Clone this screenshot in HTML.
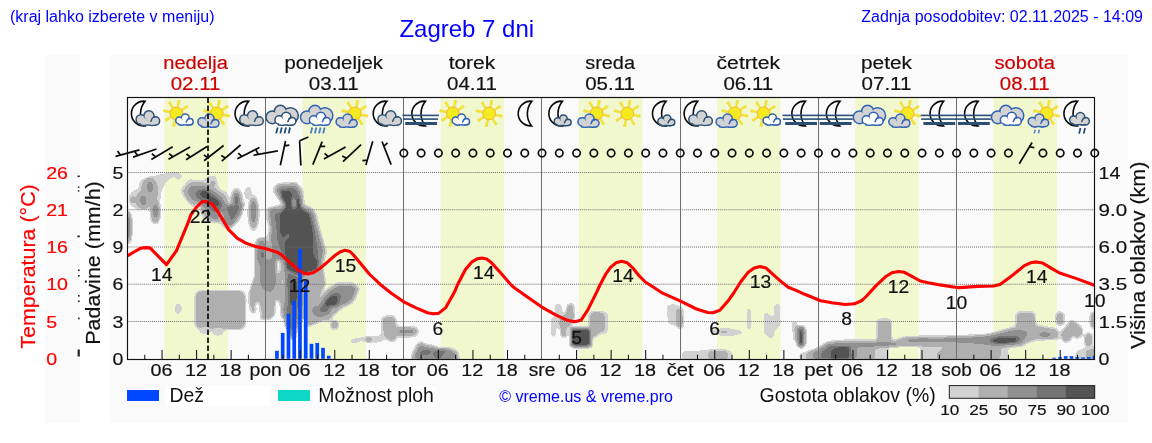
<!DOCTYPE html>
<html lang="sl"><head><meta charset="utf-8"><title>Zagreb 7 dni</title>
<style>html,body{margin:0;padding:0;background:#fff;}body{width:1152px;height:443px;overflow:hidden;position:relative;font-family:"Liberation Sans", sans-serif;}svg{position:absolute;left:0;top:0;display:block;opacity:0.999;}text{font-family:"Liberation Sans", sans-serif;}</style>
</head><body>
<svg width="1152" height="443" viewBox="0 0 1152 443">
<defs>
<clipPath id="pc"><rect x="127.5" y="97.5" width="967.0" height="262.0"/></clipPath>
<filter id="cf" x="100" y="150" width="1020" height="230" filterUnits="userSpaceOnUse" color-interpolation-filters="sRGB">
<feGaussianBlur stdDeviation="1.5"/>
<feColorMatrix type="matrix" values="1 0 0 0 0  1 0 0 0 0  1 0 0 0 0  1 0 0 0 0"/>
<feComponentTransfer><feFuncR type="discrete" tableValues="1 1 0.824 0.824 0.824 0.690 0.690 0.690 0.690 0.690 0.565 0.565 0.565 0.565 0.565 0.451 0.451 0.451 0.329 0.329"/><feFuncG type="discrete" tableValues="1 1 0.824 0.824 0.824 0.690 0.690 0.690 0.690 0.690 0.565 0.565 0.565 0.565 0.565 0.451 0.451 0.451 0.329 0.329"/><feFuncB type="discrete" tableValues="1 1 0.824 0.824 0.824 0.690 0.690 0.690 0.690 0.690 0.565 0.565 0.565 0.565 0.565 0.451 0.451 0.451 0.329 0.329"/><feFuncA type="discrete" tableValues="0 0 1 1 1 1 1 1 1 1 1 1 1 1 1 1 1 1 1 1"/></feComponentTransfer>
</filter>
</defs>
<rect x="45" y="55" width="35" height="368" fill="#fafafa"/>
<rect x="110" y="55" width="1018" height="368" fill="#fafafa"/>
<text x="10.00" y="21.80" font-size="16" text-anchor="start" fill="#0000ff">(kraj lahko izberete v meniju)</text>
<text x="399.40" y="36.90" font-size="24" text-anchor="start" fill="#0000ff">Zagreb 7 dni</text>
<text x="1143.00" y="21.80" font-size="16" text-anchor="end" fill="#0000ff">Zadnja posodobitev: 02.11.2025 - 14:09</text>
<text x="195.59" y="69.20" font-size="18" text-anchor="middle" fill="#cc0000" textLength="64.70" lengthAdjust="spacingAndGlyphs" stroke="#cc0000" stroke-width="0.18">nedelja</text>
<text x="195.59" y="89.90" font-size="17.6" text-anchor="middle" fill="#cc0000" textLength="49.80" lengthAdjust="spacingAndGlyphs" stroke="#cc0000" stroke-width="0.18">02.11</text>
<text x="333.77" y="69.20" font-size="18" text-anchor="middle" fill="#111" textLength="98.40" lengthAdjust="spacingAndGlyphs" stroke="#111" stroke-width="0.18">ponedeljek</text>
<text x="333.77" y="89.90" font-size="17.6" text-anchor="middle" fill="#111" textLength="49.80" lengthAdjust="spacingAndGlyphs" stroke="#111" stroke-width="0.18">03.11</text>
<text x="471.95" y="69.20" font-size="18" text-anchor="middle" fill="#111" textLength="46.60" lengthAdjust="spacingAndGlyphs" stroke="#111" stroke-width="0.18">torek</text>
<text x="471.95" y="89.90" font-size="17.6" text-anchor="middle" fill="#111" textLength="49.80" lengthAdjust="spacingAndGlyphs" stroke="#111" stroke-width="0.18">04.11</text>
<text x="610.13" y="69.20" font-size="18" text-anchor="middle" fill="#111" textLength="49.80" lengthAdjust="spacingAndGlyphs" stroke="#111" stroke-width="0.18">sreda</text>
<text x="610.13" y="89.90" font-size="17.6" text-anchor="middle" fill="#111" textLength="49.80" lengthAdjust="spacingAndGlyphs" stroke="#111" stroke-width="0.18">05.11</text>
<text x="748.31" y="69.20" font-size="18" text-anchor="middle" fill="#111" textLength="63.50" lengthAdjust="spacingAndGlyphs" stroke="#111" stroke-width="0.18">četrtek</text>
<text x="748.31" y="89.90" font-size="17.6" text-anchor="middle" fill="#111" textLength="49.80" lengthAdjust="spacingAndGlyphs" stroke="#111" stroke-width="0.18">06.11</text>
<text x="886.49" y="69.20" font-size="18" text-anchor="middle" fill="#111" textLength="50.90" lengthAdjust="spacingAndGlyphs" stroke="#111" stroke-width="0.18">petek</text>
<text x="886.49" y="89.90" font-size="17.6" text-anchor="middle" fill="#111" textLength="49.80" lengthAdjust="spacingAndGlyphs" stroke="#111" stroke-width="0.18">07.11</text>
<text x="1024.67" y="69.20" font-size="18" text-anchor="middle" fill="#cc0000" textLength="60.50" lengthAdjust="spacingAndGlyphs" stroke="#cc0000" stroke-width="0.18">sobota</text>
<text x="1024.67" y="89.90" font-size="17.6" text-anchor="middle" fill="#cc0000" textLength="49.80" lengthAdjust="spacingAndGlyphs" stroke="#cc0000" stroke-width="0.18">08.11</text>
<rect x="164.30" y="97.5" width="63.50" height="262.0" fill="#f1f8cd"/>
<rect x="302.48" y="97.5" width="63.50" height="262.0" fill="#f1f8cd"/>
<rect x="440.66" y="97.5" width="63.50" height="262.0" fill="#f1f8cd"/>
<rect x="578.84" y="97.5" width="63.50" height="262.0" fill="#f1f8cd"/>
<rect x="717.02" y="97.5" width="63.50" height="262.0" fill="#f1f8cd"/>
<rect x="855.20" y="97.5" width="63.50" height="262.0" fill="#f1f8cd"/>
<rect x="993.38" y="97.5" width="63.50" height="262.0" fill="#f1f8cd"/>
<g clip-path="url(#pc)"><g filter="url(#cf)">
<rect x="90" y="140" width="1040" height="250" fill="#000"/>
<polygon points="128.7,196.0 132.3,191.2 138.4,188.7 140.2,180.2 149.4,177.1 161.6,174.1 176.2,171.7 182.9,174.7 179.2,180.8 173.7,176.5 166.4,181.4 161.6,191.2 159.7,204.6 160.9,216.7 157.9,222.8 151.2,222.8 150.0,209.4 144.5,210.0 137.2,210.0 130.5,205.2" fill="#333333"/>
<ellipse cx="149.4" cy="191.2" rx="7.55" ry="13.4" fill="#6b6b6b"/>
<ellipse cx="143.3" cy="200.3" rx="6.7" ry="8.53" fill="#6b6b6b"/>
<ellipse cx="155.5" cy="211.9" rx="4.63" ry="11.58" fill="#6b6b6b"/>
<ellipse cx="132.6" cy="199.9" rx="2.68" ry="2.92" fill="#6b6b6b"/>
<ellipse cx="150.0" cy="186.9" rx="1.95" ry="5.12" fill="#bdbdbd"/>
<ellipse cx="143.3" cy="200.3" rx="2.07" ry="4.26" fill="#bdbdbd"/>
<ellipse cx="155.5" cy="210.6" rx="1.83" ry="6.7" fill="#bdbdbd"/>
<polygon points="180.1,190.5 188.4,179.2 203.0,180.2 209.1,175.6 214.6,175.6 217.6,181.4 219.1,188.7 227.6,192.4 229.2,204.6 227.4,216.7 222.5,225.3 217.6,222.8 210.3,222.8 203.0,219.2 198.1,204.6 193.2,207.6 187.8,202.7 181.3,193.0" fill="#333333"/>
<polygon points="183.5,191.2 190.2,183.2 203.0,183.2 210.3,186.3 215.8,189.9 222.5,194.2 226.7,198.5 226.7,208.2 223.7,219.2 218.8,221.6 210.3,220.4 204.2,214.3 199.3,203.3 193.2,204.6 188.4,200.3" fill="#6b6b6b"/>
<ellipse cx="213.0" cy="183.6" rx="2.07" ry="2.44" fill="#6b6b6b"/>
<polygon points="187.8,191.8 191.4,186.3 203.0,186.3 210.3,189.3 217.6,194.2 224.3,200.9 224.9,208.2 221.3,216.7 215.2,219.2 209.1,216.7 205.4,208.2 198.1,200.9 192.6,199.7" fill="#a3a3a3"/>
<polygon points="194.5,193.6 198.1,189.9 205.4,189.3 212.7,194.2 220.0,199.7 223.1,205.2 220.0,210.6 215.2,213.1 210.3,209.4 203.0,200.9 196.9,199.1" fill="#d6d6d6"/>
<ellipse cx="205.1" cy="194.2" rx="4.87" ry="3.66" fill="#ffffff" transform="rotate(20 205.1 194.2)"/>
<ellipse cx="213.9" cy="201.5" rx="6.34" ry="3.17" fill="#ffffff" transform="rotate(32 213.9 201.5)"/>
<ellipse cx="236.5" cy="204.6" rx="7.07" ry="17.06" fill="#333333"/>
<ellipse cx="236.5" cy="204.6" rx="5.36" ry="14.01" fill="#6b6b6b"/>
<ellipse cx="236.5" cy="203.3" rx="3.66" ry="10.97" fill="#a3a3a3"/>
<ellipse cx="236.5" cy="201.5" rx="1.95" ry="6.7" fill="#e3e3e3"/>
<ellipse cx="248.1" cy="193.0" rx="3.41" ry="6.34" fill="#3d3d3d"/>
<ellipse cx="253.5" cy="213.1" rx="5.85" ry="18.28" fill="#333333"/>
<ellipse cx="253.5" cy="213.1" rx="4.14" ry="15.23" fill="#6b6b6b"/>
<ellipse cx="253.5" cy="211.9" rx="2.44" ry="11.58" fill="#a3a3a3"/>
<ellipse cx="253.5" cy="209.4" rx="1.34" ry="7.31" fill="#d6d6d6"/>
<ellipse cx="128.4" cy="227.2" rx="3.66" ry="16.45" fill="#6b6b6b"/>
<ellipse cx="128.2" cy="227.2" rx="2.07" ry="12.18" fill="#b2b2b2"/>
<polygon points="218.8,212.6 242.0,212.6 238.3,222.3 228.6,230.2 222.5,227.2" fill="#333333"/>
<polygon points="221.3,212.6 240.1,212.6 236.5,221.1 228.6,227.8 223.7,225.4" fill="#6b6b6b"/>
<polygon points="223.1,212.6 237.7,212.6 234.1,220.5 228.6,225.4 224.9,223.5" fill="#a3a3a3"/>
<polygon points="226.1,212.6 234.7,212.6 231.6,219.3 228.6,221.7" fill="#d6d6d6"/>
<polygon points="272.1,189.9 276.3,183.2 296.4,181.6 303.1,189.3 304.7,204.6 312.3,207.2 315.3,211.9 315.9,222.8 266.6,222.8 266.6,208.2 273.3,206.0 282.4,204.6 277.5,198.5" fill="#333333"/>
<polygon points="274.5,189.9 278.2,185.1 295.8,183.8 301.3,190.5 302.8,205.8 310.4,208.8 313.2,212.5 314.1,222.8 268.4,222.8 268.6,210.0 274.5,208.2 284.2,205.2 279.4,198.5" fill="#6b6b6b"/>
<polygon points="276.9,189.9 279.7,186.5 295.2,186.0 299.8,191.8 301.3,206.7 308.6,210.0 311.3,213.3 312.3,222.8 278.8,222.8 278.4,211.9 285.5,206.0 281.0,198.5" fill="#a3a3a3"/>
<polygon points="279.4,190.2 281.2,188.2 295.0,188.0 298.3,193.0 301.9,208.2 307.6,210.9 309.6,214.1 310.4,222.8 279.4,222.8 279.4,212.5 285.7,206.7 282.1,198.5" fill="#d6d6d6"/>
<polygon points="281.2,190.9 290.3,190.7 291.6,197.2 292.8,208.2 297.0,209.4 297.6,196.6 300.3,196.3 301.1,208.8 307.2,211.9 308.6,222.8 280.0,222.8 280.0,213.1 284.9,208.0 285.5,203.6 281.2,198.5" fill="#ffffff"/>
<ellipse cx="293.7" cy="203.3" rx="1.1" ry="5.48" fill="#6b6b6b"/>
<polygon points="268.6,210.0 274.5,208.2 279.4,209.4 279.4,222.8 268.4,222.8" fill="#a3a3a3"/>
<ellipse cx="271.4" cy="214.9" rx="1.71" ry="1.46" fill="#d6d6d6"/>
<polygon points="264.5,212.6 316.3,212.6 319.6,227.2 323.2,239.4 326.9,251.6 323.6,263.7 323.0,273.5 254.7,273.5 254.1,245.5 257.2,238.2 266.9,237.5 269.4,227.2" fill="#333333"/>
<polygon points="268.8,212.6 314.5,212.6 317.9,227.2 321.5,239.4 324.8,251.6 322.0,263.7 321.2,273.5 267.5,273.5 269.4,251.6 270.0,239.4 270.6,227.2" fill="#6b6b6b"/>
<polygon points="269.4,212.6 312.6,212.6 316.3,227.2 319.6,239.4 323.0,250.3 320.3,263.7 319.3,273.5 273.6,273.5 272.4,251.6 271.2,239.4 271.2,227.2" fill="#a3a3a3"/>
<polygon points="274.2,212.6 310.6,212.6 314.2,227.2 316.3,239.4 318.1,251.6 317.9,263.7 318.1,273.5 281.6,273.5 280.9,251.6 276.9,239.4 276.1,227.2" fill="#d6d6d6"/>
<polygon points="280.3,212.6 308.4,212.6 312.0,227.2 312.7,239.4 312.3,251.6 316.9,268.6 316.9,273.5 287.0,273.5 285.8,251.6 285.2,240.0 280.6,233.3" fill="#ffffff"/>
<ellipse cx="287.0" cy="236.9" rx="1.22" ry="3.41" fill="#a3a3a3" transform="rotate(25 287.0 236.9)"/>
<polygon points="255.4,245.5 258.4,238.8 264.5,237.5 267.5,245.5 266.9,273.5 254.7,273.5" fill="#6b6b6b"/>
<polygon points="257.8,246.7 260.2,241.2 263.9,240.6 265.7,246.7 265.1,273.5 257.2,273.5" fill="#a3a3a3"/>
<polygon points="260.8,251.6 263.3,249.1 264.5,254.0 264.3,273.5 260.6,273.5" fill="#d6d6d6"/>
<polygon points="249.3,292.5 252.3,283.9 257.2,269.3 259.6,259.6 286.4,259.6 286.4,318.0 281.6,318.0 280.3,302.2 275.5,298.6 274.2,315.6 269.4,319.3 260.8,319.3 259.6,302.2 255.4,302.2 254.7,313.2 249.9,310.7" fill="#6b6b6b"/>
<polygon points="252.3,291.2 254.7,285.2 258.4,271.7 260.8,259.6 275.5,259.6 275.5,286.4 273.0,293.7 269.4,296.1 266.9,291.2 260.8,290.0 257.2,298.6 253.5,298.6" fill="#7a7a7a"/>
<polygon points="260.8,259.6 275.5,259.6 275.2,283.9 271.2,290.6 264.5,289.4 261.4,280.3" fill="#a3a3a3"/>
<ellipse cx="268.2" cy="273.0" rx="2.68" ry="9.75" fill="#b8b8b8"/>
<ellipse cx="278.5" cy="266.9" rx="2.19" ry="7.31" fill="#000000"/>
<ellipse cx="282.8" cy="282.1" rx="1.22" ry="4.87" fill="#0d0d0d"/>
<polygon points="284.0,259.6 319.9,259.6 318.1,269.3 312.0,277.2 302.3,282.7 286.4,276.6" fill="#d6d6d6"/>
<polygon points="285.8,259.6 318.1,259.6 316.3,268.1 310.8,275.4 302.3,280.3 296.2,277.8 287.0,269.3" fill="#ffffff"/>
<polygon points="285.2,269.3 303.5,276.6 302.3,319.3 285.2,319.3" fill="#a3a3a3"/>
<polygon points="287.0,273.0 299.8,277.8 298.6,319.3 287.6,319.3" fill="#d6d6d6"/>
<polygon points="289.5,280.3 297.4,280.3 296.8,319.3 290.1,319.3" fill="#f0f0f0"/>
<polygon points="302.3,274.2 323.0,269.3 325.4,283.9 318.1,298.6 313.2,301.0 313.2,319.3 302.3,319.3" fill="#6b6b6b"/>
<polygon points="311.4,302.2 318.1,298.6 327.9,287.6 337.6,282.1 354.7,282.7 360.1,288.2 355.9,298.6 352.2,304.0 342.5,308.3 332.7,316.8 330.3,320.5 311.4,320.5" fill="#333333"/>
<polygon points="313.2,302.8 319.3,300.0 329.1,289.4 338.2,284.2 353.4,284.8 357.7,288.8 354.1,297.9 350.4,302.8 341.3,306.8 332.1,315.0 329.1,320.5 313.2,320.5" fill="#6b6b6b"/>
<polygon points="320.3,304.0 324.8,296.7 332.1,289.8 340.0,285.4 351.6,285.4 355.6,289.1 352.5,297.9 345.5,303.2 339.4,305.6 333.3,312.9 325.4,314.2 320.3,310.1" fill="#a3a3a3"/>
<polygon points="323.0,303.4 328.5,295.9 336.4,292.5 341.3,293.9 340.7,299.2 336.4,308.9 329.1,312.6 324.0,309.8" fill="#d6d6d6"/>
<polygon points="324.8,303.2 330.3,297.3 336.1,294.4 337.6,300.7 334.6,307.3 329.1,310.7 325.4,308.9" fill="#ffffff"/>
<ellipse cx="341.5" cy="289.4" rx="3.17" ry="1.46" fill="#d6d6d6" transform="rotate(-20 341.5 289.4)"/>
<polygon points="283.4,306.6 299.2,306.6 298.6,323.6 294.3,339.5 291.9,339.5 285.2,324.8" fill="#a3a3a3"/>
<polygon points="285.8,306.6 297.6,306.6 296.8,322.4 293.7,334.6 287.6,323.6" fill="#d6d6d6"/>
<polygon points="306.5,306.6 341.3,306.6 330.3,316.3 318.1,322.4 307.1,326.7" fill="#6b6b6b"/>
<polygon points="312.6,306.6 332.1,306.6 329.1,313.9 319.3,316.9 313.2,313.9" fill="#a3a3a3"/>
<polygon points="318.1,306.6 330.3,306.6 327.9,311.4 320.5,312.7" fill="#d6d6d6"/>
<ellipse cx="334.6" cy="324.8" rx="4.63" ry="5.12" fill="#333333"/>
<ellipse cx="334.6" cy="324.8" rx="3.17" ry="3.66" fill="#6b6b6b"/>
<polygon points="350.0,339.5 357.7,338.0 366.8,336.4 376.6,336.4 386.3,333.4 386.3,339.5 376.6,340.9 369.3,343.1 362.0,340.9 352.2,343.7" fill="#333333"/>
<ellipse cx="368.7" cy="339.5" rx="3.17" ry="1.95" fill="#6b6b6b"/>
<ellipse cx="368.7" cy="339.5" rx="1.46" ry="0.97" fill="#a3a3a3"/>
<polygon points="249.9,306.6 256.6,306.6 256.0,312.0 252.9,313.9 250.5,312.0" fill="#333333"/>
<ellipse cx="253.3" cy="310.2" rx="1.71" ry="1.71" fill="#6b6b6b"/>
<polygon points="260.2,306.6 273.0,306.6 271.2,313.9 265.7,318.1 261.4,315.1" fill="#333333"/>
<polygon points="262.1,306.6 271.2,306.6 269.4,313.3 265.7,315.7 262.7,313.3" fill="#6b6b6b"/>
<rect x="194.5" y="290" width="51.5" height="40" rx="7" fill="#333333"/>
<rect x="196" y="291.5" width="48.5" height="37" rx="6" fill="#6b6b6b"/>
<ellipse cx="205" cy="329.5" rx="5" ry="3.6" fill="#6b6b6b"/>
<ellipse cx="218" cy="330.5" rx="5" ry="3.8" fill="#6b6b6b"/>
<ellipse cx="205" cy="330" rx="6" ry="4.6" fill="#333333"/>
<ellipse cx="218" cy="331" rx="6" ry="4.8" fill="#333333"/>
<ellipse cx="178.2" cy="308.6" rx="3.2" ry="5.2" fill="#404040"/>
<polygon points="222,205 244,203 240,215 231,227 225,222" fill="#a3a3a3"/>
<polygon points="226,206 240,205 237,214 231,222" fill="#d6d6d6"/>
<polygon points="380.8,318.7 384.1,315.7 394.5,315.3 396.7,318.7 396.9,325.8 415.2,326.1 419.8,331.2 415.2,337.3 397.2,337.3 396.3,340.9 390.8,342.5 383.5,338.2 381.1,341.9 373.8,343.1 373.8,336.4 381.1,335.8" fill="#333333"/>
<polygon points="383.8,319.4 386.0,317.5 393.3,317.3 394.7,320.0 395.1,327.9 414.0,328.3 417.0,331.3 413.7,335.2 395.5,335.2 394.3,339.5 390.6,340.4 385.4,336.4 384.1,328.5" fill="#6b6b6b"/>
<polygon points="399.4,330.0 413.4,330.0 414.2,331.4 413.0,332.9 399.4,332.9 398.4,331.4" fill="#a3a3a3"/>
<polygon points="410.1,359.6 412.8,351.6 416.4,344.3 420.7,340.7 426.2,344.1 433.5,345.3 439.6,347.7 450.8,347.7 458.1,351.0 460.0,359.6" fill="#333333"/>
<polygon points="411.8,359.6 414.2,352.3 417.6,345.8 420.7,343.1 425.6,345.6 433.2,346.8 439.3,349.0 450.3,349.0 456.4,351.9 458.3,359.6" fill="#6b6b6b"/>
<polygon points="413.7,359.6 415.8,352.9 419.1,347.4 421.3,345.6 425.2,347.0 433.0,348.2 439.1,349.9 449.6,350.2 454.8,352.9 456.4,359.6" fill="#a3a3a3"/>
<polygon points="419.1,355.1 420.7,350.2 429.8,349.8 432.3,351.9 428.6,355.1" fill="#d6d6d6"/>
<polygon points="433.2,359.6 433.5,351.0 438.4,349.2 448.1,349.8 449.9,359.6" fill="#d6d6d6"/>
<polygon points="440.8,359.6 445.1,351.9 448.1,351.9 449.6,359.6" fill="#a3a3a3"/>
<polygon points="555.1,303.8 561.2,303.8 562.1,313.3 566.9,310.8 566.9,303.8 574.0,302.9 575.2,319.4 571.6,326.7 566.9,328.5 566.9,337.0 561.2,337.6 560.0,327.9 556.0,327.9 555.5,337.0 551.4,337.0 551.4,317.5 555.1,316.3" fill="#333333"/>
<polygon points="567.3,306.0 572.8,305.4 573.4,317.5 570.3,324.9 566.4,326.9 566.4,336.4 561.6,336.4 560.8,326.1 560.0,321.2 564.2,315.7 566.9,314.5" fill="#6b6b6b"/>
<polygon points="570.1,326.9 591.0,326.9 592.5,329.7 592.5,346.2 590.4,347.6 571.6,347.6 570.1,345.9" fill="#333333"/>
<polygon points="570.7,327.9 590.1,327.9 591.3,330.1 591.3,345.2 589.6,346.7 572.2,346.7 570.7,345.2" fill="#a3a3a3"/>
<polygon points="571.3,328.6 589.2,328.9 590.1,330.3 590.1,344.7 588.9,345.9 572.5,345.9 571.3,344.7" fill="#ffffff"/>
<polygon points="588.6,313.3 592.3,310.8 605.7,311.4 608.4,314.5 608.1,331.6 604.5,334.2 599.6,334.2 595.9,337.9 591.7,337.9 591.3,330.3 588.6,327.9" fill="#333333"/>
<polygon points="590.4,314.5 593.2,312.8 601.8,312.8 603.5,315.1 603.5,330.3 600.8,331.8 597.8,332.2 595.3,336.2 592.5,336.2 592.3,330.3 590.4,327.3" fill="#6b6b6b"/>
<polygon points="666.8,305.7 673.6,303.8 680.3,306.5 684.1,310.2 683.7,327.1 680.3,329.5 674.9,325.7 667.9,323.3" fill="#333333"/>
<polygon points="677.1,309.8 681.4,309.2 682.0,326.4 679.6,327.8 677.3,325.7" fill="#6b6b6b"/>
<polygon points="678.4,311.1 680.3,310.8 680.6,325.5 678.7,325.1" fill="#a3a3a3"/>
<polygon points="705.8,331.4 721.0,328.2 731.1,328.5 745.1,331.8 735.9,335.5 721.0,335.8" fill="#333333"/>
<polygon points="719.6,330.9 728.4,330.9 728.4,332.2 719.6,332.2" fill="#6b6b6b"/>
<polygon points="746.9,308.8 750.8,308.8 750.8,328.7 746.9,328.7" fill="#404040"/>
<polygon points="774.6,304.3 780.1,303.8 780.3,325.7 775.2,329.1 772.5,338.2 770.4,338.2 764.1,333.2 763.8,312.9 768.4,313.6 771.1,316.9 774.6,314.9" fill="#3b3b3b"/>
<polygon points="792.1,321.7 797.1,321.7 797.5,340.7 793.5,340.7" fill="#404040"/>
<polygon points="796.6,327.8 799.6,326.0 803.6,326.4 805.5,330.5 805.0,345.4 800.9,348.1 797.1,344.7" fill="#a3a3a3"/>
<polygon points="798.2,328.5 802.5,327.8 803.6,343.4 800.9,346.3 798.5,343.4" fill="#d6d6d6"/>
<polygon points="799.6,328.5 802.3,328.5 802.5,344.7 800.7,345.8 799.6,344.0" fill="#ffffff"/>
<polygon points="681.4,359.6 682.4,351.2 700.7,350.4 714.2,349.1 727.8,349.9 732.5,352.2 732.5,359.6" fill="#333333"/>
<polygon points="708.8,359.6 709.5,351.5 726.4,351.2 727.1,359.6" fill="#6b6b6b"/>
<polygon points="799.4,353.7 807.3,351.1 818.3,347.4 827.8,341.3 842.6,340.1 876.2,340.1 876.5,320.2 879.8,318.6 889.6,318.6 891.6,320.8 892.0,340.6 903.6,336.4 941.3,335.7 941.3,359.8 920.0,359.8 920.0,346.7 889.2,347.0 889.2,359.8 799.4,359.8" fill="#333333"/>
<polygon points="806.7,359.8 807.6,352.8 818.9,348.6 828.6,342.5 842.6,341.3 878.0,341.3 878.2,321.8 890.4,321.6 890.8,341.6 896.3,341.6 904.2,337.7 941.3,336.9 941.3,345.5 897.5,345.8 874.3,347.0 874.3,359.8" fill="#6b6b6b"/>
<polygon points="813.2,359.8 813.6,351.9 820.1,349.1 829.2,343.7 854.8,342.5 896.3,342.3 897.0,346.2 878.0,346.4 856.3,347.0 856.0,359.8" fill="#a3a3a3"/>
<polygon points="908.2,337.9 941.3,337.4 941.3,341.6 908.2,341.6" fill="#a3a3a3"/>
<polygon points="820.1,359.8 821.0,351.9 829.9,345.8 849.3,345.5 851.4,347.0 851.8,359.8" fill="#d6d6d6"/>
<polygon points="830.7,359.8 831.4,350.7 836.6,347.4 847.5,347.0 849.0,348.9 849.0,359.8" fill="#ffffff"/>
<polygon points="929.3,336.1 963.7,335.2 988.0,334.1 999.5,330.5 1014.9,326.2 1015.5,313.6 1018.8,311.2 1032.4,311.2 1035.6,314.3 1036.1,324.6 1056.8,328.4 1059.9,333.7 1059.4,339.4 1035.3,340.4 1028.1,343.0 1022.4,346.6 1008.4,348.0 1007.8,359.5 929.3,359.5" fill="#333333"/>
<polygon points="929.3,337.5 963.7,336.7 988.0,335.5 999.8,332.1 1016.9,327.5 1017.4,315.0 1019.8,312.9 1031.7,312.9 1034.1,315.5 1034.7,326.5 1056.1,329.8 1057.9,334.1 1057.5,338.0 1034.6,339.0 1026.7,341.8 1021.0,345.3 999.8,347.3 999.2,359.5 938.3,359.5 938.3,353.0 948.0,346.3 929.3,346.0" fill="#6b6b6b"/>
<polygon points="929.3,338.4 950.5,338.1 978.0,336.7 999.5,333.8 1009.5,330.9 1021.0,330.1 1027.8,333.0 1021.2,343.0 999.5,345.8 978.0,343.3 950.8,341.5 929.3,342.0" fill="#a3a3a3"/>
<polygon points="987.7,339.4 999.5,336.1 1015.2,335.5 1021.2,337.5 1018.8,343.0 999.5,344.7 991.6,343.0" fill="#d6d6d6"/>
<polygon points="990.6,339.8 999.5,338.0 1014.5,337.5 1016.9,339.4 1014.5,342.7 999.5,343.3 993.0,342.3" fill="#ffffff"/>
<polygon points="1037.9,334.4 1043.9,332.2 1051.0,333.7 1049.6,336.5 1041.0,336.5" fill="#a3a3a3"/>
<polygon points="1055.1,313.6 1059.6,310.7 1064.7,313.6 1064.7,323.6 1059.9,326.5 1055.3,323.6" fill="#333333"/>
<polygon points="1056.8,315.0 1059.9,313.2 1063.2,315.0 1063.2,322.6 1059.9,324.6 1056.8,322.6" fill="#6b6b6b"/>
<polygon points="1060.4,332.2 1067.5,323.6 1071.1,319.3 1078.3,323.6 1083.3,328.7 1082.6,335.8 1076.8,339.4 1071.8,335.8 1070.4,341.5 1064.7,343.0 1060.4,338.0" fill="#333333"/>
<polygon points="1061.9,333.0 1068.5,325.5 1071.4,321.5 1077.6,325.1 1081.7,329.4 1081.1,335.1 1076.8,337.5 1072.8,334.4 1069.7,339.8 1065.1,341.3 1061.9,337.2" fill="#6b6b6b"/>
<polygon points="1084.3,335.1 1089.0,331.5 1092.9,335.1 1092.9,345.1 1088.6,348.0 1084.3,344.7" fill="#333333"/>
<polygon points="1085.4,335.8 1089.0,333.2 1091.7,335.8 1091.7,344.1 1088.6,346.4 1085.4,343.8" fill="#6b6b6b"/>
<polygon points="1090.0,313.6 1096.2,310.7 1096.2,329.4 1090.0,327.2" fill="#333333"/>
<polygon points="1091.2,314.3 1096.2,312.6 1096.2,327.9 1091.2,326.1" fill="#6b6b6b"/>
<polygon points="1074.7,359.5 1076.1,351.6 1084.0,348.0 1096.2,346.6 1096.2,359.5" fill="#333333"/>
<polygon points="1086.6,359.5 1087.1,350.9 1096.2,349.4 1096.2,359.5" fill="#6b6b6b"/>
</g></g>
<line x1="127.5" x2="1094.5" y1="321.50" y2="321.50" stroke="#6a6a6a" stroke-width="1" stroke-dasharray="1 1.03"/>
<line x1="127.5" x2="1094.5" y1="284.25" y2="284.25" stroke="#6a6a6a" stroke-width="1" stroke-dasharray="1 1.03"/>
<line x1="127.5" x2="1094.5" y1="247.00" y2="247.00" stroke="#6a6a6a" stroke-width="1" stroke-dasharray="1 1.03"/>
<line x1="127.5" x2="1094.5" y1="209.75" y2="209.75" stroke="#6a6a6a" stroke-width="1" stroke-dasharray="1 1.03"/>
<line x1="127.5" x2="1094.5" y1="172.50" y2="172.50" stroke="#6a6a6a" stroke-width="1" stroke-dasharray="1 1.03"/>
<line x1="265.50" x2="265.50" y1="97.5" y2="359.5" stroke="#6e6e6e" stroke-width="1"/>
<line x1="403.50" x2="403.50" y1="97.5" y2="359.5" stroke="#6e6e6e" stroke-width="1"/>
<line x1="541.50" x2="541.50" y1="97.5" y2="359.5" stroke="#6e6e6e" stroke-width="1"/>
<line x1="680.50" x2="680.50" y1="97.5" y2="359.5" stroke="#6e6e6e" stroke-width="1"/>
<line x1="818.50" x2="818.50" y1="97.5" y2="359.5" stroke="#6e6e6e" stroke-width="1"/>
<line x1="956.50" x2="956.50" y1="97.5" y2="359.5" stroke="#6e6e6e" stroke-width="1"/>
<rect x="275.09" y="350.80" width="3.70" height="7.95" fill="#0048ff"/>
<rect x="280.85" y="332.92" width="3.70" height="25.83" fill="#0048ff"/>
<rect x="286.61" y="313.80" width="3.70" height="44.95" fill="#0048ff"/>
<rect x="292.37" y="300.89" width="3.70" height="57.86" fill="#0048ff"/>
<rect x="298.12" y="248.86" width="3.70" height="109.89" fill="#0048ff"/>
<rect x="303.88" y="280.52" width="3.70" height="78.23" fill="#0048ff"/>
<rect x="309.64" y="343.85" width="3.70" height="14.90" fill="#0048ff"/>
<rect x="315.40" y="342.98" width="3.70" height="15.77" fill="#0048ff"/>
<rect x="321.15" y="347.82" width="3.70" height="10.93" fill="#0048ff"/>
<rect x="326.91" y="355.77" width="3.70" height="2.98" fill="#0048ff"/>
<rect x="1052.36" y="357.76" width="3.70" height="0.99" fill="#0048ff"/>
<rect x="1058.12" y="357.01" width="3.70" height="1.74" fill="#0048ff"/>
<rect x="1063.87" y="356.14" width="3.70" height="2.61" fill="#0048ff"/>
<rect x="1069.63" y="356.14" width="3.70" height="2.61" fill="#0048ff"/>
<rect x="1075.39" y="357.01" width="3.70" height="1.74" fill="#0048ff"/>
<rect x="1081.14" y="357.38" width="3.70" height="1.37" fill="#0048ff"/>
<rect x="1086.90" y="357.01" width="3.70" height="1.74" fill="#0048ff"/>
<rect x="1092.66" y="355.77" width="1.84" height="2.98" fill="#0048ff"/>
<path d="M127.5,255.8 L134.0,252.0 L140.8,248.2 L145.0,247.6 L150.0,247.9 L158.4,256.4 L166.5,264.6 L176.4,250.8 L187.7,223.7 L190.8,215.0 L196.7,206.8 L202.2,201.6 L206.6,201.6 L212.6,204.5 L218.8,213.0 L228.6,229.6 L237.1,238.2 L246.8,243.6 L256.6,246.7 L265.0,248.5 L278.0,252.6 L281.6,255.0 L290.3,262.9 L298.2,270.0 L303.7,273.3 L307.6,274.0 L313.2,272.8 L319.5,268.8 L327.4,262.1 L334.5,255.8 L340.0,252.0 L344.9,250.3 L350.0,251.5 L353.5,255.0 L362.1,265.3 L369.3,274.0 L380.0,284.2 L391.3,293.2 L403.7,301.8 L416.1,307.9 L427.4,312.7 L433.0,313.8 L438.5,313.4 L445.5,307.9 L454.5,292.1 L457.4,285.0 L465.3,269.7 L472.0,261.8 L477.1,258.8 L481.9,258.1 L486.6,259.1 L491.3,262.6 L499.2,271.3 L510.3,284.0 L513.2,286.9 L526.7,296.6 L541.4,306.8 L556.1,315.1 L567.4,320.3 L574.5,321.8 L580.9,320.3 L587.7,310.1 L596.7,292.1 L599.5,286.0 L605.8,274.1 L610.5,267.4 L616.1,262.7 L621.6,261.2 L627.1,262.7 L632.7,267.8 L639.0,275.7 L645.3,282.0 L652.4,286.5 L662.6,293.2 L680.6,301.1 L696.4,309.0 L707.7,312.5 L713.0,312.8 L720.1,310.1 L728.0,301.1 L733.7,293.0 L740.8,281.7 L747.9,272.6 L754.2,267.9 L760.1,266.5 L766.1,268.1 L772.4,273.8 L780.3,280.9 L788.2,287.2 L796.1,290.4 L804.8,294.3 L820.6,300.7 L831.9,302.7 L845.4,304.5 L854.4,303.8 L862.0,300.5 L866.6,296.0 L876.8,284.9 L886.3,276.2 L891.9,272.7 L898.6,271.5 L904.5,272.3 L912.4,276.6 L920.3,281.0 L928.2,282.7 L940.0,284.9 L955.0,287.3 L959.7,287.6 L977.8,286.4 L993.6,286.0 L1000.0,284.5 L1013.6,274.4 L1024.4,265.6 L1030.5,262.8 L1036.3,261.9 L1042.7,263.1 L1051.5,268.3 L1059.6,273.0 L1075.9,278.4 L1094.5,285.3" fill="none" stroke="#ff0000" stroke-width="3.1" stroke-linejoin="round" stroke-linecap="butt" clip-path="url(#pc)"/>
<text x="161.80" y="280.60" font-size="17.5" text-anchor="middle" fill="#111" textLength="21.50" lengthAdjust="spacingAndGlyphs" stroke="#111" stroke-width="0.18">14</text>
<text x="200.40" y="222.60" font-size="17.5" text-anchor="middle" fill="#111" textLength="21.50" lengthAdjust="spacingAndGlyphs" stroke="#111" stroke-width="0.18">22</text>
<text x="345.60" y="271.70" font-size="17.5" text-anchor="middle" fill="#111" textLength="21.50" lengthAdjust="spacingAndGlyphs" stroke="#111" stroke-width="0.18">15</text>
<text x="299.50" y="291.80" font-size="17.5" text-anchor="middle" fill="#111" textLength="21.50" lengthAdjust="spacingAndGlyphs" stroke="#111" stroke-width="0.18">12</text>
<text x="437.80" y="335.20" font-size="17.5" text-anchor="middle" fill="#111" textLength="10.75" lengthAdjust="spacingAndGlyphs" stroke="#111" stroke-width="0.18">6</text>
<text x="483.70" y="278.80" font-size="17.5" text-anchor="middle" fill="#111" textLength="21.50" lengthAdjust="spacingAndGlyphs" stroke="#111" stroke-width="0.18">14</text>
<text x="576.70" y="343.70" font-size="17.5" text-anchor="middle" fill="#111" textLength="10.75" lengthAdjust="spacingAndGlyphs" stroke="#111" stroke-width="0.18">5</text>
<text x="622.90" y="281.90" font-size="17.5" text-anchor="middle" fill="#111" textLength="21.50" lengthAdjust="spacingAndGlyphs" stroke="#111" stroke-width="0.18">14</text>
<text x="714.70" y="334.60" font-size="17.5" text-anchor="middle" fill="#111" textLength="10.75" lengthAdjust="spacingAndGlyphs" stroke="#111" stroke-width="0.18">6</text>
<text x="760.50" y="287.80" font-size="17.5" text-anchor="middle" fill="#111" textLength="21.50" lengthAdjust="spacingAndGlyphs" stroke="#111" stroke-width="0.18">13</text>
<text x="846.60" y="324.70" font-size="17.5" text-anchor="middle" fill="#111" textLength="10.75" lengthAdjust="spacingAndGlyphs" stroke="#111" stroke-width="0.18">8</text>
<text x="898.50" y="292.80" font-size="17.5" text-anchor="middle" fill="#111" textLength="21.50" lengthAdjust="spacingAndGlyphs" stroke="#111" stroke-width="0.18">12</text>
<text x="956.50" y="309.30" font-size="17.5" text-anchor="middle" fill="#111" textLength="21.50" lengthAdjust="spacingAndGlyphs" stroke="#111" stroke-width="0.18">10</text>
<text x="1036.70" y="282.90" font-size="17.5" text-anchor="middle" fill="#111" textLength="21.50" lengthAdjust="spacingAndGlyphs" stroke="#111" stroke-width="0.18">14</text>
<text x="1094.65" y="306.90" font-size="17.5" text-anchor="middle" fill="#111" textLength="21.50" lengthAdjust="spacingAndGlyphs" stroke="#111" stroke-width="0.18">10</text>
<g clip-path="url(#pc)">
<path d="M145.07,101.2 A12.45,12.45 0 1 0 144.87,126.0 A19.5,19.5 0 0 1 145.07,101.2 Z" fill="#fdfdfd" stroke="#0a0a0a" stroke-width="1.6" stroke-linejoin="miter"/>
<g fill="#2b5075" stroke="#2b5075" stroke-width="3.0" stroke-linejoin="round"><circle cx="140.77" cy="119.42" r="3.89"/><circle cx="148.91" cy="115.88" r="4.38"/><circle cx="155.48" cy="120.98" r="3.39"/><circle cx="143.96" cy="121.55" r="3.19"/><circle cx="152.07" cy="121.91" r="2.84"/><rect x="140.77" y="119.42" width="14.72" height="4.95"/></g>
<g fill="#d3d3d3"><circle cx="140.77" cy="119.42" r="3.89"/><circle cx="148.91" cy="115.88" r="4.38"/><circle cx="155.48" cy="120.98" r="3.39"/><circle cx="143.96" cy="121.55" r="3.19"/><circle cx="152.07" cy="121.91" r="2.84"/><rect x="140.77" y="119.42" width="14.72" height="4.95"/></g>
<path d="M150.79,121.31 L151.39,120.41 A4.14,4.14 0 0 1 155.20,116.85" fill="none" stroke="#2b5075" stroke-width="1.42" stroke-linecap="round" stroke-linejoin="round"/>
<path d="M178.52,107.10 L180.34,100.74 L177.99,100.24 L177.06,106.79Z M182.36,110.43 L188.14,107.22 L186.83,105.20 L181.54,109.18Z M182.72,115.51 L189.08,117.32 L189.58,114.97 L183.03,114.04Z M179.38,119.34 L182.60,125.12 L184.61,123.82 L180.64,118.53Z M174.31,119.70 L172.50,126.06 L174.85,126.56 L175.78,120.01Z M170.47,116.37 L164.69,119.58 L166.00,121.60 L171.29,117.62Z M170.12,111.29 L163.76,109.48 L163.26,111.83 L169.81,112.76Z M173.45,107.46 L170.23,101.68 L168.22,102.98 L172.19,108.27Z" fill="#f4ea22" stroke="#edcf4a" stroke-width="0.55" stroke-linejoin="round"/>
<circle cx="176.42" cy="113.40" r="6.4" fill="#f4ea20" stroke="#f6ae2d" stroke-width="0.9"/>
<g fill="#2f62b4" stroke="#2f62b4" stroke-width="3.0" stroke-linejoin="round"><circle cx="179.33" cy="120.52" r="2.81"/><circle cx="185.21" cy="117.96" r="3.16"/><circle cx="189.97" cy="121.65" r="2.45"/><circle cx="181.64" cy="122.07" r="2.31"/><circle cx="187.50" cy="122.32" r="2.05"/><rect x="179.33" y="120.52" width="10.64" height="3.58"/></g>
<g fill="#ffffff"><circle cx="179.33" cy="120.52" r="2.81"/><circle cx="185.21" cy="117.96" r="3.16"/><circle cx="189.97" cy="121.65" r="2.45"/><circle cx="181.64" cy="122.07" r="2.31"/><circle cx="187.50" cy="122.32" r="2.05"/><rect x="179.33" y="120.52" width="10.64" height="3.58"/></g>
<path d="M186.20,122.11 L186.80,121.21 A3.20,3.20 0 0 1 189.75,118.46" fill="none" stroke="#2f62b4" stroke-width="1.42" stroke-linecap="round" stroke-linejoin="round"/>
<path d="M218.77,107.10 L220.58,100.74 L218.23,100.24 L217.30,106.79Z M222.61,110.43 L228.39,107.22 L227.08,105.20 L221.79,109.18Z M222.96,115.51 L229.32,117.32 L229.82,114.97 L223.27,114.04Z M219.63,119.34 L222.85,125.12 L224.86,123.82 L220.89,118.53Z M214.56,119.70 L212.74,126.06 L215.09,126.56 L216.02,120.01Z M210.72,116.37 L204.94,119.58 L206.25,121.60 L211.54,117.62Z M210.36,111.29 L204.00,109.48 L203.50,111.83 L210.05,112.76Z M213.70,107.46 L210.48,101.68 L208.47,102.98 L212.44,108.27Z" fill="#f4ea22" stroke="#edcf4a" stroke-width="0.55" stroke-linejoin="round"/>
<circle cx="216.66" cy="113.40" r="6.4" fill="#f4ea20" stroke="#f6ae2d" stroke-width="0.9"/>
<g fill="#2f62b4" stroke="#2f62b4" stroke-width="3.0" stroke-linejoin="round"><circle cx="202.13" cy="121.86" r="3.47"/><circle cx="209.38" cy="118.70" r="3.90"/><circle cx="215.24" cy="123.25" r="3.02"/><circle cx="204.97" cy="123.76" r="2.84"/><circle cx="212.21" cy="124.07" r="2.53"/><rect x="202.13" y="121.86" width="13.11" height="4.41"/></g>
<g fill="#d3d3d3"><circle cx="202.13" cy="121.86" r="3.47"/><circle cx="209.38" cy="118.70" r="3.90"/><circle cx="215.24" cy="123.25" r="3.02"/><circle cx="204.97" cy="123.76" r="2.84"/><circle cx="212.21" cy="124.07" r="2.53"/><rect x="202.13" y="121.86" width="13.11" height="4.41"/></g>
<path d="M210.91,123.62 L211.51,122.72 A3.77,3.77 0 0 1 214.98,119.49" fill="none" stroke="#2f62b4" stroke-width="1.42" stroke-linecap="round" stroke-linejoin="round"/>
<path d="M248.71,101.2 A12.45,12.45 0 1 0 248.51,126.0 A19.5,19.5 0 0 1 248.71,101.2 Z" fill="#fdfdfd" stroke="#0a0a0a" stroke-width="1.6" stroke-linejoin="miter"/>
<g fill="#2b5075" stroke="#2b5075" stroke-width="3.0" stroke-linejoin="round"><circle cx="244.40" cy="119.42" r="3.89"/><circle cx="252.54" cy="115.88" r="4.38"/><circle cx="259.12" cy="120.98" r="3.39"/><circle cx="247.59" cy="121.55" r="3.19"/><circle cx="255.71" cy="121.91" r="2.84"/><rect x="244.40" y="119.42" width="14.72" height="4.95"/></g>
<g fill="#d3d3d3"><circle cx="244.40" cy="119.42" r="3.89"/><circle cx="252.54" cy="115.88" r="4.38"/><circle cx="259.12" cy="120.98" r="3.39"/><circle cx="247.59" cy="121.55" r="3.19"/><circle cx="255.71" cy="121.91" r="2.84"/><rect x="244.40" y="119.42" width="14.72" height="4.95"/></g>
<path d="M254.42,121.31 L255.02,120.41 A4.14,4.14 0 0 1 258.83,116.85" fill="none" stroke="#2b5075" stroke-width="1.42" stroke-linecap="round" stroke-linejoin="round"/>
<g fill="#2b5075" stroke="#2b5075" stroke-width="3.0"><circle cx="272.35" cy="117.30" r="5.60"/><circle cx="280.35" cy="111.20" r="5.20"/><circle cx="290.35" cy="115.60" r="7.20"/><circle cx="279.95" cy="118.00" r="5.00"/><circle cx="284.95" cy="119.00" r="4.50"/></g>
<g fill="#d3d3d3"><circle cx="272.35" cy="117.30" r="5.60"/><circle cx="280.35" cy="111.20" r="5.20"/><circle cx="290.35" cy="115.60" r="7.20"/><circle cx="279.95" cy="118.00" r="5.00"/><circle cx="284.95" cy="119.00" r="4.50"/></g>
<g fill="#2b5075" stroke="#2b5075" stroke-width="3.0" stroke-linejoin="round"><circle cx="279.09" cy="119.88" r="3.43"/><circle cx="286.26" cy="116.76" r="3.86"/><circle cx="292.06" cy="121.26" r="2.99"/><circle cx="281.90" cy="121.77" r="2.81"/><circle cx="289.06" cy="122.08" r="2.50"/><rect x="279.09" y="119.88" width="12.98" height="4.37"/></g>
<g fill="#ffffff"><circle cx="279.09" cy="119.88" r="3.43"/><circle cx="286.26" cy="116.76" r="3.86"/><circle cx="292.06" cy="121.26" r="2.99"/><circle cx="281.90" cy="121.77" r="2.81"/><circle cx="289.06" cy="122.08" r="2.50"/><rect x="279.09" y="119.88" width="12.98" height="4.37"/></g>
<path d="M287.76,121.64 L288.36,120.74 A3.74,3.74 0 0 1 291.80,117.53" fill="none" stroke="#2b5075" stroke-width="1.42" stroke-linecap="round" stroke-linejoin="round"/>
<line x1="277.69" y1="127.50" x2="276.21" y2="133.40" stroke="#1f4a75" stroke-width="1.8"/>
<line x1="281.79" y1="127.50" x2="280.31" y2="133.40" stroke="#1f4a75" stroke-width="1.8"/>
<line x1="285.99" y1="127.50" x2="284.51" y2="133.40" stroke="#1f4a75" stroke-width="1.8"/>
<line x1="290.09" y1="127.50" x2="288.61" y2="133.40" stroke="#1f4a75" stroke-width="1.8"/>
<g fill="#2f62b4" stroke="#2f62b4" stroke-width="3.0"><circle cx="306.90" cy="117.30" r="5.60"/><circle cx="314.90" cy="111.20" r="5.20"/><circle cx="324.90" cy="115.60" r="7.20"/><circle cx="314.50" cy="118.00" r="5.00"/><circle cx="319.50" cy="119.00" r="4.50"/></g>
<g fill="#d3d3d3"><circle cx="306.90" cy="117.30" r="5.60"/><circle cx="314.90" cy="111.20" r="5.20"/><circle cx="324.90" cy="115.60" r="7.20"/><circle cx="314.50" cy="118.00" r="5.00"/><circle cx="319.50" cy="119.00" r="4.50"/></g>
<g fill="#2f62b4" stroke="#2f62b4" stroke-width="3.0" stroke-linejoin="round"><circle cx="313.63" cy="119.88" r="3.43"/><circle cx="320.81" cy="116.76" r="3.86"/><circle cx="326.61" cy="121.26" r="2.99"/><circle cx="316.44" cy="121.77" r="2.81"/><circle cx="323.60" cy="122.08" r="2.50"/><rect x="313.63" y="119.88" width="12.98" height="4.37"/></g>
<g fill="#ffffff"><circle cx="313.63" cy="119.88" r="3.43"/><circle cx="320.81" cy="116.76" r="3.86"/><circle cx="326.61" cy="121.26" r="2.99"/><circle cx="316.44" cy="121.77" r="2.81"/><circle cx="323.60" cy="122.08" r="2.50"/><rect x="313.63" y="119.88" width="12.98" height="4.37"/></g>
<path d="M322.31,121.64 L322.91,120.74 A3.74,3.74 0 0 1 326.35,117.53" fill="none" stroke="#2f62b4" stroke-width="1.42" stroke-linecap="round" stroke-linejoin="round"/>
<line x1="312.24" y1="127.50" x2="310.76" y2="133.40" stroke="#4a7bc8" stroke-width="1.8"/>
<line x1="316.34" y1="127.50" x2="314.86" y2="133.40" stroke="#4a7bc8" stroke-width="1.8"/>
<line x1="320.54" y1="127.50" x2="319.06" y2="133.40" stroke="#4a7bc8" stroke-width="1.8"/>
<line x1="324.63" y1="127.50" x2="323.16" y2="133.40" stroke="#4a7bc8" stroke-width="1.8"/>
<path d="M356.95,107.10 L358.76,100.74 L356.41,100.24 L355.48,106.79Z M360.79,110.43 L366.57,107.22 L365.26,105.20 L359.97,109.18Z M361.14,115.51 L367.50,117.32 L368.00,114.97 L361.45,114.04Z M357.81,119.34 L361.03,125.12 L363.04,123.82 L359.07,118.53Z M352.74,119.70 L350.92,126.06 L353.27,126.56 L354.20,120.01Z M348.90,116.37 L343.12,119.58 L344.43,121.60 L349.72,117.62Z M348.54,111.29 L342.18,109.48 L341.68,111.83 L348.23,112.76Z M351.88,107.46 L348.66,101.68 L346.65,102.98 L350.62,108.27Z" fill="#f4ea22" stroke="#edcf4a" stroke-width="0.55" stroke-linejoin="round"/>
<circle cx="354.84" cy="113.40" r="6.4" fill="#f4ea20" stroke="#f6ae2d" stroke-width="0.9"/>
<g fill="#2f62b4" stroke="#2f62b4" stroke-width="3.0" stroke-linejoin="round"><circle cx="340.31" cy="121.86" r="3.47"/><circle cx="347.56" cy="118.70" r="3.90"/><circle cx="353.42" cy="123.25" r="3.02"/><circle cx="343.15" cy="123.76" r="2.84"/><circle cx="350.39" cy="124.07" r="2.53"/><rect x="340.31" y="121.86" width="13.11" height="4.41"/></g>
<g fill="#d3d3d3"><circle cx="340.31" cy="121.86" r="3.47"/><circle cx="347.56" cy="118.70" r="3.90"/><circle cx="353.42" cy="123.25" r="3.02"/><circle cx="343.15" cy="123.76" r="2.84"/><circle cx="350.39" cy="124.07" r="2.53"/><rect x="340.31" y="121.86" width="13.11" height="4.41"/></g>
<path d="M349.09,123.62 L349.69,122.72 A3.77,3.77 0 0 1 353.16,119.49" fill="none" stroke="#2f62b4" stroke-width="1.42" stroke-linecap="round" stroke-linejoin="round"/>
<path d="M386.89,101.2 A12.45,12.45 0 1 0 386.69,126.0 A19.5,19.5 0 0 1 386.89,101.2 Z" fill="#fdfdfd" stroke="#0a0a0a" stroke-width="1.6" stroke-linejoin="miter"/>
<g fill="#2b5075" stroke="#2b5075" stroke-width="3.0" stroke-linejoin="round"><circle cx="382.58" cy="119.42" r="3.89"/><circle cx="390.72" cy="115.88" r="4.38"/><circle cx="397.30" cy="120.98" r="3.39"/><circle cx="385.77" cy="121.55" r="3.19"/><circle cx="393.89" cy="121.91" r="2.84"/><rect x="382.58" y="119.42" width="14.72" height="4.95"/></g>
<g fill="#d3d3d3"><circle cx="382.58" cy="119.42" r="3.89"/><circle cx="390.72" cy="115.88" r="4.38"/><circle cx="397.30" cy="120.98" r="3.39"/><circle cx="385.77" cy="121.55" r="3.19"/><circle cx="393.89" cy="121.91" r="2.84"/><rect x="382.58" y="119.42" width="14.72" height="4.95"/></g>
<path d="M392.60,121.31 L393.20,120.41 A4.14,4.14 0 0 1 397.01,116.85" fill="none" stroke="#2b5075" stroke-width="1.42" stroke-linecap="round" stroke-linejoin="round"/>
<path d="M425.53,101.2 A12.45,12.45 0 1 0 425.33,126.0 A19.5,19.5 0 0 1 425.53,101.2 Z" fill="#fdfdfd" stroke="#0a0a0a" stroke-width="1.6" stroke-linejoin="miter"/>
<rect x="402.53" y="114.6" width="36.4" height="1.6" fill="#2b4f73"/>
<rect x="402.93" y="118.3" width="35.2" height="1.6" fill="#2b4f73"/>
<rect x="405.23" y="122.0" width="31.8" height="3.0" fill="#2b4f73"/>
<path d="M454.88,107.10 L456.70,100.74 L454.35,100.24 L453.42,106.79Z M458.72,110.43 L464.50,107.22 L463.19,105.20 L457.90,109.18Z M459.08,115.51 L465.44,117.32 L465.94,114.97 L459.39,114.04Z M455.74,119.34 L458.96,125.12 L460.97,123.82 L457.00,118.53Z M450.67,119.70 L448.86,126.06 L451.21,126.56 L452.14,120.01Z M446.83,116.37 L441.05,119.58 L442.36,121.60 L447.65,117.62Z M446.48,111.29 L440.12,109.48 L439.62,111.83 L446.17,112.76Z M449.81,107.46 L446.59,101.68 L444.58,102.98 L448.55,108.27Z" fill="#f4ea22" stroke="#edcf4a" stroke-width="0.55" stroke-linejoin="round"/>
<circle cx="452.78" cy="113.40" r="6.4" fill="#f4ea20" stroke="#f6ae2d" stroke-width="0.9"/>
<g fill="#2f62b4" stroke="#2f62b4" stroke-width="3.0" stroke-linejoin="round"><circle cx="455.69" cy="120.52" r="2.81"/><circle cx="461.57" cy="117.96" r="3.16"/><circle cx="466.33" cy="121.65" r="2.45"/><circle cx="458.00" cy="122.07" r="2.31"/><circle cx="463.86" cy="122.32" r="2.05"/><rect x="455.69" y="120.52" width="10.64" height="3.58"/></g>
<g fill="#ffffff"><circle cx="455.69" cy="120.52" r="2.81"/><circle cx="461.57" cy="117.96" r="3.16"/><circle cx="466.33" cy="121.65" r="2.45"/><circle cx="458.00" cy="122.07" r="2.31"/><circle cx="463.86" cy="122.32" r="2.05"/><rect x="455.69" y="120.52" width="10.64" height="3.58"/></g>
<path d="M462.56,122.11 L463.16,121.21 A3.20,3.20 0 0 1 466.11,118.46" fill="none" stroke="#2f62b4" stroke-width="1.42" stroke-linecap="round" stroke-linejoin="round"/>
<path d="M491.23,107.20 L493.04,100.84 L490.69,100.34 L489.76,106.89Z M495.07,110.53 L500.85,107.32 L499.54,105.30 L494.25,109.28Z M495.42,115.61 L501.78,117.42 L502.28,115.07 L495.73,114.14Z M492.09,119.44 L495.31,125.22 L497.32,123.92 L493.35,118.63Z M487.02,119.80 L485.20,126.16 L487.55,126.66 L488.48,120.11Z M483.18,116.47 L477.40,119.68 L478.71,121.70 L484.00,117.72Z M482.82,111.39 L476.46,109.58 L475.96,111.93 L482.51,112.86Z M486.16,107.56 L482.94,101.78 L480.93,103.08 L484.90,108.37Z" fill="#f4ea22" stroke="#edcf4a" stroke-width="0.55" stroke-linejoin="round"/>
<circle cx="489.12" cy="113.50" r="6.4" fill="#f4ea20" stroke="#f6ae2d" stroke-width="0.9"/>
<path d="M531.87,101.2 A12.45,12.45 0 1 0 531.67,126.0 A19.5,19.5 0 0 1 531.87,101.2 Z" fill="#fdfdfd" stroke="#0a0a0a" stroke-width="1.6" stroke-linejoin="miter"/>
<path d="M562.51,101.2 A12.45,12.45 0 1 0 562.31,126.0 A19.5,19.5 0 0 1 562.51,101.2 Z" fill="#fdfdfd" stroke="#0a0a0a" stroke-width="1.6" stroke-linejoin="miter"/>
<g fill="#2b5075" stroke="#2b5075" stroke-width="3.0" stroke-linejoin="round"><circle cx="557.74" cy="121.24" r="2.73"/><circle cx="563.44" cy="118.76" r="3.06"/><circle cx="568.04" cy="122.34" r="2.37"/><circle cx="559.97" cy="122.74" r="2.23"/><circle cx="565.65" cy="122.98" r="1.99"/><rect x="557.74" y="121.24" width="10.30" height="3.46"/></g>
<g fill="#d3d3d3"><circle cx="557.74" cy="121.24" r="2.73"/><circle cx="563.44" cy="118.76" r="3.06"/><circle cx="568.04" cy="122.34" r="2.37"/><circle cx="559.97" cy="122.74" r="2.23"/><circle cx="565.65" cy="122.98" r="1.99"/><rect x="557.74" y="121.24" width="10.30" height="3.46"/></g>
<path d="M564.35,122.80 L564.95,121.90 A3.12,3.12 0 0 1 567.82,119.22" fill="none" stroke="#2b5075" stroke-width="1.42" stroke-linecap="round" stroke-linejoin="round"/>
<path d="M598.76,107.10 L600.58,100.74 L598.23,100.24 L597.30,106.79Z M602.60,110.43 L608.38,107.22 L607.07,105.20 L601.78,109.18Z M602.96,115.51 L609.32,117.32 L609.82,114.97 L603.27,114.04Z M599.62,119.34 L602.84,125.12 L604.85,123.82 L600.88,118.53Z M594.55,119.70 L592.74,126.06 L595.09,126.56 L596.02,120.01Z M590.71,116.37 L584.93,119.58 L586.24,121.60 L591.53,117.62Z M590.36,111.29 L584.00,109.48 L583.50,111.83 L590.05,112.76Z M593.69,107.46 L590.47,101.68 L588.46,102.98 L592.43,108.27Z" fill="#f4ea22" stroke="#edcf4a" stroke-width="0.55" stroke-linejoin="round"/>
<circle cx="596.66" cy="113.40" r="6.4" fill="#f4ea20" stroke="#f6ae2d" stroke-width="0.9"/>
<g fill="#2f62b4" stroke="#2f62b4" stroke-width="3.0" stroke-linejoin="round"><circle cx="582.13" cy="121.86" r="3.47"/><circle cx="589.38" cy="118.70" r="3.90"/><circle cx="595.24" cy="123.25" r="3.02"/><circle cx="584.97" cy="123.76" r="2.84"/><circle cx="592.20" cy="124.07" r="2.53"/><rect x="582.13" y="121.86" width="13.11" height="4.41"/></g>
<g fill="#d3d3d3"><circle cx="582.13" cy="121.86" r="3.47"/><circle cx="589.38" cy="118.70" r="3.90"/><circle cx="595.24" cy="123.25" r="3.02"/><circle cx="584.97" cy="123.76" r="2.84"/><circle cx="592.20" cy="124.07" r="2.53"/><rect x="582.13" y="121.86" width="13.11" height="4.41"/></g>
<path d="M590.91,123.62 L591.51,122.72 A3.77,3.77 0 0 1 594.98,119.49" fill="none" stroke="#2f62b4" stroke-width="1.42" stroke-linecap="round" stroke-linejoin="round"/>
<path d="M629.41,107.20 L631.22,100.84 L628.87,100.34 L627.94,106.89Z M633.25,110.53 L639.03,107.32 L637.72,105.30 L632.43,109.28Z M633.60,115.61 L639.96,117.42 L640.46,115.07 L633.91,114.14Z M630.27,119.44 L633.49,125.22 L635.50,123.92 L631.53,118.63Z M625.20,119.80 L623.38,126.16 L625.73,126.66 L626.66,120.11Z M621.36,116.47 L615.58,119.68 L616.89,121.70 L622.18,117.72Z M621.00,111.39 L614.64,109.58 L614.14,111.93 L620.69,112.86Z M624.34,107.56 L621.12,101.78 L619.11,103.08 L623.08,108.37Z" fill="#f4ea22" stroke="#edcf4a" stroke-width="0.55" stroke-linejoin="round"/>
<circle cx="627.30" cy="113.50" r="6.4" fill="#f4ea20" stroke="#f6ae2d" stroke-width="0.9"/>
<path d="M666.15,101.2 A12.45,12.45 0 1 0 665.95,126.0 A19.5,19.5 0 0 1 666.15,101.2 Z" fill="#fdfdfd" stroke="#0a0a0a" stroke-width="1.6" stroke-linejoin="miter"/>
<g fill="#2b5075" stroke="#2b5075" stroke-width="3.0" stroke-linejoin="round"><circle cx="661.37" cy="121.24" r="2.73"/><circle cx="667.07" cy="118.76" r="3.06"/><circle cx="671.68" cy="122.34" r="2.37"/><circle cx="663.61" cy="122.74" r="2.23"/><circle cx="669.29" cy="122.98" r="1.99"/><rect x="661.37" y="121.24" width="10.30" height="3.46"/></g>
<g fill="#d3d3d3"><circle cx="661.37" cy="121.24" r="2.73"/><circle cx="667.07" cy="118.76" r="3.06"/><circle cx="671.68" cy="122.34" r="2.37"/><circle cx="663.61" cy="122.74" r="2.23"/><circle cx="669.29" cy="122.98" r="1.99"/><rect x="661.37" y="121.24" width="10.30" height="3.46"/></g>
<path d="M667.98,122.80 L668.58,121.90 A3.12,3.12 0 0 1 671.46,119.22" fill="none" stroke="#2b5075" stroke-width="1.42" stroke-linecap="round" stroke-linejoin="round"/>
<path d="M697.79,101.2 A12.45,12.45 0 1 0 697.59,126.0 A19.5,19.5 0 0 1 697.79,101.2 Z" fill="#fdfdfd" stroke="#0a0a0a" stroke-width="1.6" stroke-linejoin="miter"/>
<g fill="#2b5075" stroke="#2b5075" stroke-width="3.0" stroke-linejoin="round"><circle cx="693.49" cy="119.42" r="3.89"/><circle cx="701.63" cy="115.88" r="4.38"/><circle cx="708.20" cy="120.98" r="3.39"/><circle cx="696.68" cy="121.55" r="3.19"/><circle cx="704.79" cy="121.91" r="2.84"/><rect x="693.49" y="119.42" width="14.72" height="4.95"/></g>
<g fill="#d3d3d3"><circle cx="693.49" cy="119.42" r="3.89"/><circle cx="701.63" cy="115.88" r="4.38"/><circle cx="708.20" cy="120.98" r="3.39"/><circle cx="696.68" cy="121.55" r="3.19"/><circle cx="704.79" cy="121.91" r="2.84"/><rect x="693.49" y="119.42" width="14.72" height="4.95"/></g>
<path d="M703.51,121.31 L704.11,120.41 A4.14,4.14 0 0 1 707.92,116.85" fill="none" stroke="#2b5075" stroke-width="1.42" stroke-linecap="round" stroke-linejoin="round"/>
<path d="M736.94,107.10 L738.76,100.74 L736.41,100.24 L735.48,106.79Z M740.78,110.43 L746.56,107.22 L745.25,105.20 L739.96,109.18Z M741.14,115.51 L747.50,117.32 L748.00,114.97 L741.45,114.04Z M737.80,119.34 L741.02,125.12 L743.03,123.82 L739.06,118.53Z M732.73,119.70 L730.92,126.06 L733.27,126.56 L734.20,120.01Z M728.89,116.37 L723.11,119.58 L724.42,121.60 L729.71,117.62Z M728.54,111.29 L722.18,109.48 L721.68,111.83 L728.23,112.76Z M731.87,107.46 L728.65,101.68 L726.64,102.98 L730.61,108.27Z" fill="#f4ea22" stroke="#edcf4a" stroke-width="0.55" stroke-linejoin="round"/>
<circle cx="734.84" cy="113.40" r="6.4" fill="#f4ea20" stroke="#f6ae2d" stroke-width="0.9"/>
<g fill="#2f62b4" stroke="#2f62b4" stroke-width="3.0" stroke-linejoin="round"><circle cx="720.31" cy="121.86" r="3.47"/><circle cx="727.56" cy="118.70" r="3.90"/><circle cx="733.42" cy="123.25" r="3.02"/><circle cx="723.15" cy="123.76" r="2.84"/><circle cx="730.38" cy="124.07" r="2.53"/><rect x="720.31" y="121.86" width="13.11" height="4.41"/></g>
<g fill="#d3d3d3"><circle cx="720.31" cy="121.86" r="3.47"/><circle cx="727.56" cy="118.70" r="3.90"/><circle cx="733.42" cy="123.25" r="3.02"/><circle cx="723.15" cy="123.76" r="2.84"/><circle cx="730.38" cy="124.07" r="2.53"/><rect x="720.31" y="121.86" width="13.11" height="4.41"/></g>
<path d="M729.09,123.62 L729.69,122.72 A3.77,3.77 0 0 1 733.16,119.49" fill="none" stroke="#2f62b4" stroke-width="1.42" stroke-linecap="round" stroke-linejoin="round"/>
<path d="M765.79,107.10 L767.60,100.74 L765.25,100.24 L764.32,106.79Z M769.63,110.43 L775.41,107.22 L774.10,105.20 L768.81,109.18Z M769.98,115.51 L776.34,117.32 L776.84,114.97 L770.29,114.04Z M766.65,119.34 L769.87,125.12 L771.88,123.82 L767.91,118.53Z M761.58,119.70 L759.76,126.06 L762.11,126.56 L763.04,120.01Z M757.74,116.37 L751.96,119.58 L753.27,121.60 L758.56,117.62Z M757.38,111.29 L751.02,109.48 L750.52,111.83 L757.07,112.76Z M760.72,107.46 L757.50,101.68 L755.49,102.98 L759.46,108.27Z" fill="#f4ea22" stroke="#edcf4a" stroke-width="0.55" stroke-linejoin="round"/>
<circle cx="763.68" cy="113.40" r="6.4" fill="#f4ea20" stroke="#f6ae2d" stroke-width="0.9"/>
<g fill="#2f62b4" stroke="#2f62b4" stroke-width="3.0" stroke-linejoin="round"><circle cx="766.60" cy="120.52" r="2.81"/><circle cx="772.48" cy="117.96" r="3.16"/><circle cx="777.23" cy="121.65" r="2.45"/><circle cx="768.90" cy="122.07" r="2.31"/><circle cx="774.77" cy="122.32" r="2.05"/><rect x="766.60" y="120.52" width="10.64" height="3.58"/></g>
<g fill="#ffffff"><circle cx="766.60" cy="120.52" r="2.81"/><circle cx="772.48" cy="117.96" r="3.16"/><circle cx="777.23" cy="121.65" r="2.45"/><circle cx="768.90" cy="122.07" r="2.31"/><circle cx="774.77" cy="122.32" r="2.05"/><rect x="766.60" y="120.52" width="10.64" height="3.58"/></g>
<path d="M773.47,122.11 L774.07,121.21 A3.20,3.20 0 0 1 777.01,118.46" fill="none" stroke="#2f62b4" stroke-width="1.42" stroke-linecap="round" stroke-linejoin="round"/>
<path d="M805.53,101.2 A12.45,12.45 0 1 0 805.33,126.0 A19.5,19.5 0 0 1 805.53,101.2 Z" fill="#fdfdfd" stroke="#0a0a0a" stroke-width="1.6" stroke-linejoin="miter"/>
<rect x="782.53" y="114.6" width="36.4" height="1.6" fill="#2b4f73"/>
<rect x="782.93" y="118.3" width="35.2" height="1.6" fill="#2b4f73"/>
<rect x="785.23" y="122.0" width="31.8" height="3.0" fill="#2b4f73"/>
<path d="M840.07,101.2 A12.45,12.45 0 1 0 839.87,126.0 A19.5,19.5 0 0 1 840.07,101.2 Z" fill="#fdfdfd" stroke="#0a0a0a" stroke-width="1.6" stroke-linejoin="miter"/>
<rect x="817.07" y="114.6" width="36.4" height="1.6" fill="#2b4f73"/>
<rect x="817.47" y="118.3" width="35.2" height="1.6" fill="#2b4f73"/>
<rect x="819.77" y="122.0" width="31.8" height="3.0" fill="#2b4f73"/>
<g fill="#2f62b4" stroke="#2f62b4" stroke-width="3.0"><circle cx="859.62" cy="117.30" r="5.60"/><circle cx="867.62" cy="111.20" r="5.20"/><circle cx="877.62" cy="115.60" r="7.20"/><circle cx="867.22" cy="118.00" r="5.00"/><circle cx="872.22" cy="119.00" r="4.50"/></g>
<g fill="#d3d3d3"><circle cx="859.62" cy="117.30" r="5.60"/><circle cx="867.62" cy="111.20" r="5.20"/><circle cx="877.62" cy="115.60" r="7.20"/><circle cx="867.22" cy="118.00" r="5.00"/><circle cx="872.22" cy="119.00" r="4.50"/></g>
<g fill="#2f62b4" stroke="#2f62b4" stroke-width="3.0" stroke-linejoin="round"><circle cx="866.35" cy="119.88" r="3.43"/><circle cx="873.53" cy="116.76" r="3.86"/><circle cx="879.33" cy="121.26" r="2.99"/><circle cx="869.16" cy="121.77" r="2.81"/><circle cx="876.32" cy="122.08" r="2.50"/><rect x="866.35" y="119.88" width="12.98" height="4.37"/></g>
<g fill="#ffffff"><circle cx="866.35" cy="119.88" r="3.43"/><circle cx="873.53" cy="116.76" r="3.86"/><circle cx="879.33" cy="121.26" r="2.99"/><circle cx="869.16" cy="121.77" r="2.81"/><circle cx="876.32" cy="122.08" r="2.50"/><rect x="866.35" y="119.88" width="12.98" height="4.37"/></g>
<path d="M875.03,121.64 L875.63,120.74 A3.74,3.74 0 0 1 879.07,117.53" fill="none" stroke="#2f62b4" stroke-width="1.42" stroke-linecap="round" stroke-linejoin="round"/>
<path d="M909.67,107.10 L911.48,100.74 L909.13,100.24 L908.20,106.79Z M913.51,110.43 L919.29,107.22 L917.98,105.20 L912.69,109.18Z M913.86,115.51 L920.22,117.32 L920.72,114.97 L914.17,114.04Z M910.53,119.34 L913.75,125.12 L915.76,123.82 L911.79,118.53Z M905.46,119.70 L903.64,126.06 L905.99,126.56 L906.92,120.01Z M901.62,116.37 L895.84,119.58 L897.15,121.60 L902.44,117.62Z M901.26,111.29 L894.90,109.48 L894.40,111.83 L900.95,112.76Z M904.60,107.46 L901.38,101.68 L899.37,102.98 L903.34,108.27Z" fill="#f4ea22" stroke="#edcf4a" stroke-width="0.55" stroke-linejoin="round"/>
<circle cx="907.56" cy="113.40" r="6.4" fill="#f4ea20" stroke="#f6ae2d" stroke-width="0.9"/>
<g fill="#2f62b4" stroke="#2f62b4" stroke-width="3.0" stroke-linejoin="round"><circle cx="893.03" cy="121.86" r="3.47"/><circle cx="900.28" cy="118.70" r="3.90"/><circle cx="906.14" cy="123.25" r="3.02"/><circle cx="895.87" cy="123.76" r="2.84"/><circle cx="903.11" cy="124.07" r="2.53"/><rect x="893.03" y="121.86" width="13.11" height="4.41"/></g>
<g fill="#d3d3d3"><circle cx="893.03" cy="121.86" r="3.47"/><circle cx="900.28" cy="118.70" r="3.90"/><circle cx="906.14" cy="123.25" r="3.02"/><circle cx="895.87" cy="123.76" r="2.84"/><circle cx="903.11" cy="124.07" r="2.53"/><rect x="893.03" y="121.86" width="13.11" height="4.41"/></g>
<path d="M901.81,123.62 L902.41,122.72 A3.77,3.77 0 0 1 905.88,119.49" fill="none" stroke="#2f62b4" stroke-width="1.42" stroke-linecap="round" stroke-linejoin="round"/>
<path d="M943.71,101.2 A12.45,12.45 0 1 0 943.51,126.0 A19.5,19.5 0 0 1 943.71,101.2 Z" fill="#fdfdfd" stroke="#0a0a0a" stroke-width="1.6" stroke-linejoin="miter"/>
<rect x="920.71" y="114.6" width="36.4" height="1.6" fill="#2b4f73"/>
<rect x="921.11" y="118.3" width="35.2" height="1.6" fill="#2b4f73"/>
<rect x="923.41" y="122.0" width="31.8" height="3.0" fill="#2b4f73"/>
<path d="M978.25,101.2 A12.45,12.45 0 1 0 978.05,126.0 A19.5,19.5 0 0 1 978.25,101.2 Z" fill="#fdfdfd" stroke="#0a0a0a" stroke-width="1.6" stroke-linejoin="miter"/>
<rect x="955.25" y="114.6" width="36.4" height="1.6" fill="#2b4f73"/>
<rect x="955.65" y="118.3" width="35.2" height="1.6" fill="#2b4f73"/>
<rect x="957.95" y="122.0" width="31.8" height="3.0" fill="#2b4f73"/>
<g fill="#2f62b4" stroke="#2f62b4" stroke-width="3.0"><circle cx="997.80" cy="117.30" r="5.60"/><circle cx="1005.80" cy="111.20" r="5.20"/><circle cx="1015.80" cy="115.60" r="7.20"/><circle cx="1005.40" cy="118.00" r="5.00"/><circle cx="1010.40" cy="119.00" r="4.50"/></g>
<g fill="#d3d3d3"><circle cx="997.80" cy="117.30" r="5.60"/><circle cx="1005.80" cy="111.20" r="5.20"/><circle cx="1015.80" cy="115.60" r="7.20"/><circle cx="1005.40" cy="118.00" r="5.00"/><circle cx="1010.40" cy="119.00" r="4.50"/></g>
<g fill="#2f62b4" stroke="#2f62b4" stroke-width="3.0" stroke-linejoin="round"><circle cx="1004.53" cy="119.88" r="3.43"/><circle cx="1011.71" cy="116.76" r="3.86"/><circle cx="1017.51" cy="121.26" r="2.99"/><circle cx="1007.34" cy="121.77" r="2.81"/><circle cx="1014.50" cy="122.08" r="2.50"/><rect x="1004.53" y="119.88" width="12.98" height="4.37"/></g>
<g fill="#ffffff"><circle cx="1004.53" cy="119.88" r="3.43"/><circle cx="1011.71" cy="116.76" r="3.86"/><circle cx="1017.51" cy="121.26" r="2.99"/><circle cx="1007.34" cy="121.77" r="2.81"/><circle cx="1014.50" cy="122.08" r="2.50"/><rect x="1004.53" y="119.88" width="12.98" height="4.37"/></g>
<path d="M1013.21,121.64 L1013.81,120.74 A3.74,3.74 0 0 1 1017.25,117.53" fill="none" stroke="#2f62b4" stroke-width="1.42" stroke-linecap="round" stroke-linejoin="round"/>
<path d="M1048.75,107.10 L1050.56,100.74 L1048.21,100.24 L1047.28,106.79Z M1052.59,110.43 L1058.37,107.22 L1057.06,105.20 L1051.77,109.18Z M1052.94,115.51 L1059.30,117.32 L1059.80,114.97 L1053.25,114.04Z M1049.61,119.34 L1052.83,125.12 L1054.84,123.82 L1050.87,118.53Z M1044.54,119.70 L1042.72,126.06 L1045.07,126.56 L1046.00,120.01Z M1040.70,116.37 L1034.92,119.58 L1036.23,121.60 L1041.52,117.62Z M1040.34,111.29 L1033.98,109.48 L1033.48,111.83 L1040.03,112.76Z M1043.68,107.46 L1040.46,101.68 L1038.45,102.98 L1042.42,108.27Z" fill="#f4ea22" stroke="#edcf4a" stroke-width="0.55" stroke-linejoin="round"/>
<circle cx="1046.64" cy="113.40" r="6.4" fill="#f4ea20" stroke="#f6ae2d" stroke-width="0.9"/>
<g fill="#2f62b4" stroke="#2f62b4" stroke-width="3.0" stroke-linejoin="round"><circle cx="1032.31" cy="121.54" r="3.36"/><circle cx="1039.34" cy="118.48" r="3.78"/><circle cx="1045.02" cy="122.89" r="2.93"/><circle cx="1035.06" cy="123.38" r="2.75"/><circle cx="1042.07" cy="123.69" r="2.45"/><rect x="1032.31" y="121.54" width="12.71" height="4.28"/></g>
<g fill="#d3d3d3"><circle cx="1032.31" cy="121.54" r="3.36"/><circle cx="1039.34" cy="118.48" r="3.78"/><circle cx="1045.02" cy="122.89" r="2.93"/><circle cx="1035.06" cy="123.38" r="2.75"/><circle cx="1042.07" cy="123.69" r="2.45"/><rect x="1032.31" y="121.54" width="12.71" height="4.28"/></g>
<path d="M1040.78,123.28 L1041.38,122.38 A3.68,3.68 0 0 1 1044.76,119.22" fill="none" stroke="#2f62b4" stroke-width="1.42" stroke-linecap="round" stroke-linejoin="round"/>
<line x1="1035.19" y1="129.80" x2="1034.29" y2="133.40" stroke="#4a7bc8" stroke-width="1.5"/>
<line x1="1039.29" y1="129.80" x2="1038.39" y2="133.40" stroke="#4a7bc8" stroke-width="1.5"/>
<path d="M1077.59,101.2 A12.45,12.45 0 1 0 1077.39,126.0 A19.5,19.5 0 0 1 1077.59,101.2 Z" fill="#fdfdfd" stroke="#0a0a0a" stroke-width="1.6" stroke-linejoin="miter"/>
<g fill="#2b5075" stroke="#2b5075" stroke-width="3.0" stroke-linejoin="round"><circle cx="1073.61" cy="119.85" r="3.22"/><circle cx="1080.34" cy="116.92" r="3.62"/><circle cx="1085.78" cy="121.14" r="2.80"/><circle cx="1076.25" cy="121.62" r="2.64"/><circle cx="1082.96" cy="121.91" r="2.35"/><rect x="1073.61" y="119.85" width="12.18" height="4.09"/></g>
<g fill="#d3d3d3"><circle cx="1073.61" cy="119.85" r="3.22"/><circle cx="1080.34" cy="116.92" r="3.62"/><circle cx="1085.78" cy="121.14" r="2.80"/><circle cx="1076.25" cy="121.62" r="2.64"/><circle cx="1082.96" cy="121.91" r="2.35"/><rect x="1073.61" y="119.85" width="12.18" height="4.09"/></g>
<path d="M1081.67,121.55 L1082.27,120.65 A3.55,3.55 0 0 1 1085.54,117.60" fill="none" stroke="#2b5075" stroke-width="1.42" stroke-linecap="round" stroke-linejoin="round"/>
<line x1="1080.49" y1="128.00" x2="1079.09" y2="133.60" stroke="#1f4a75" stroke-width="1.7"/>
<line x1="1085.09" y1="128.00" x2="1083.69" y2="133.60" stroke="#1f4a75" stroke-width="1.7"/>
</g>
<path d="M115.52,156.31 L139.48,149.89 M120.35,155.02 L117.54,151.00" stroke="#0a0a0a" stroke-width="1.7" fill="none" stroke-linecap="butt"/>
<path d="M133.05,157.14 L156.50,149.06 M137.78,155.51 L134.69,151.70" stroke="#0a0a0a" stroke-width="1.7" fill="none" stroke-linecap="butt"/>
<path d="M151.37,159.41 L172.72,146.79 M155.68,156.87 L151.89,153.76" stroke="#0a0a0a" stroke-width="1.7" fill="none" stroke-linecap="butt"/>
<path d="M168.51,159.19 L190.12,147.01 M172.87,156.73 L169.15,153.54" stroke="#0a0a0a" stroke-width="1.7" fill="none" stroke-linecap="butt"/>
<path d="M186.07,159.67 L207.11,146.53 M190.31,157.02 L186.45,154.00" stroke="#0a0a0a" stroke-width="1.7" fill="none" stroke-linecap="butt"/>
<path d="M204.09,160.73 L223.63,145.47 M208.03,157.66 L203.88,155.06" stroke="#0a0a0a" stroke-width="1.7" fill="none" stroke-linecap="butt"/>
<path d="M221.73,161.19 L240.54,145.01 M225.52,157.93 L221.25,155.53" stroke="#0a0a0a" stroke-width="1.7" fill="none" stroke-linecap="butt"/>
<path d="M237.36,158.73 L259.46,147.47 M241.81,156.46 L238.23,153.12" stroke="#0a0a0a" stroke-width="1.7" fill="none" stroke-linecap="butt"/>
<path d="M253.47,155.25 L277.89,150.95 M258.39,154.38 L255.94,150.14" stroke="#0a0a0a" stroke-width="1.7" fill="none" stroke-linecap="butt"/>
<path d="M285.53,140.97 L280.37,165.23 M284.49,145.86 L289.34,145.18" stroke="#0a0a0a" stroke-width="1.7" fill="none" stroke-linecap="butt"/>
<path d="M299.58,140.72 L300.87,165.48 M299.58,140.72 L308.41,136.97" stroke="#0a0a0a" stroke-width="1.7" fill="none" stroke-linecap="butt"/>
<path d="M322.14,141.60 L312.85,164.60 M320.27,146.24 L325.17,146.41" stroke="#0a0a0a" stroke-width="1.7" fill="none" stroke-linecap="butt"/>
<path d="M323.92,159.11 L345.62,147.09 M328.30,156.69 L324.60,153.47" stroke="#0a0a0a" stroke-width="1.7" fill="none" stroke-linecap="butt"/>
<path d="M342.97,161.56 L361.11,144.64 M346.63,158.15 L342.26,155.92" stroke="#0a0a0a" stroke-width="1.7" fill="none" stroke-linecap="butt"/>
<path d="M365.90,165.02 L372.73,141.18 M367.28,160.21 L362.39,160.56" stroke="#0a0a0a" stroke-width="1.7" fill="none" stroke-linecap="butt"/>
<path d="M382.04,141.56 L391.13,164.64 M383.88,146.21 L387.55,142.97" stroke="#0a0a0a" stroke-width="1.7" fill="none" stroke-linecap="butt"/>
<circle cx="403.86" cy="153.1" r="3.7" fill="none" stroke="#0a0a0a" stroke-width="1.7"/>
<circle cx="421.13" cy="153.1" r="3.7" fill="none" stroke="#0a0a0a" stroke-width="1.7"/>
<circle cx="438.41" cy="153.1" r="3.7" fill="none" stroke="#0a0a0a" stroke-width="1.7"/>
<circle cx="455.68" cy="153.1" r="3.7" fill="none" stroke="#0a0a0a" stroke-width="1.7"/>
<circle cx="472.95" cy="153.1" r="3.7" fill="none" stroke="#0a0a0a" stroke-width="1.7"/>
<circle cx="490.22" cy="153.1" r="3.7" fill="none" stroke="#0a0a0a" stroke-width="1.7"/>
<circle cx="507.50" cy="153.1" r="3.7" fill="none" stroke="#0a0a0a" stroke-width="1.7"/>
<circle cx="524.77" cy="153.1" r="3.7" fill="none" stroke="#0a0a0a" stroke-width="1.7"/>
<circle cx="542.04" cy="153.1" r="3.7" fill="none" stroke="#0a0a0a" stroke-width="1.7"/>
<circle cx="559.31" cy="153.1" r="3.7" fill="none" stroke="#0a0a0a" stroke-width="1.7"/>
<circle cx="576.59" cy="153.1" r="3.7" fill="none" stroke="#0a0a0a" stroke-width="1.7"/>
<circle cx="593.86" cy="153.1" r="3.7" fill="none" stroke="#0a0a0a" stroke-width="1.7"/>
<circle cx="611.13" cy="153.1" r="3.7" fill="none" stroke="#0a0a0a" stroke-width="1.7"/>
<circle cx="628.40" cy="153.1" r="3.7" fill="none" stroke="#0a0a0a" stroke-width="1.7"/>
<circle cx="645.68" cy="153.1" r="3.7" fill="none" stroke="#0a0a0a" stroke-width="1.7"/>
<circle cx="662.95" cy="153.1" r="3.7" fill="none" stroke="#0a0a0a" stroke-width="1.7"/>
<circle cx="680.22" cy="153.1" r="3.7" fill="none" stroke="#0a0a0a" stroke-width="1.7"/>
<circle cx="697.49" cy="153.1" r="3.7" fill="none" stroke="#0a0a0a" stroke-width="1.7"/>
<circle cx="714.76" cy="153.1" r="3.7" fill="none" stroke="#0a0a0a" stroke-width="1.7"/>
<circle cx="732.04" cy="153.1" r="3.7" fill="none" stroke="#0a0a0a" stroke-width="1.7"/>
<circle cx="749.31" cy="153.1" r="3.7" fill="none" stroke="#0a0a0a" stroke-width="1.7"/>
<circle cx="766.58" cy="153.1" r="3.7" fill="none" stroke="#0a0a0a" stroke-width="1.7"/>
<circle cx="783.86" cy="153.1" r="3.7" fill="none" stroke="#0a0a0a" stroke-width="1.7"/>
<circle cx="801.13" cy="153.1" r="3.7" fill="none" stroke="#0a0a0a" stroke-width="1.7"/>
<circle cx="818.40" cy="153.1" r="3.7" fill="none" stroke="#0a0a0a" stroke-width="1.7"/>
<circle cx="835.67" cy="153.1" r="3.7" fill="none" stroke="#0a0a0a" stroke-width="1.7"/>
<circle cx="852.95" cy="153.1" r="3.7" fill="none" stroke="#0a0a0a" stroke-width="1.7"/>
<circle cx="870.22" cy="153.1" r="3.7" fill="none" stroke="#0a0a0a" stroke-width="1.7"/>
<circle cx="887.49" cy="153.1" r="3.7" fill="none" stroke="#0a0a0a" stroke-width="1.7"/>
<circle cx="904.76" cy="153.1" r="3.7" fill="none" stroke="#0a0a0a" stroke-width="1.7"/>
<circle cx="922.04" cy="153.1" r="3.7" fill="none" stroke="#0a0a0a" stroke-width="1.7"/>
<circle cx="939.31" cy="153.1" r="3.7" fill="none" stroke="#0a0a0a" stroke-width="1.7"/>
<circle cx="956.58" cy="153.1" r="3.7" fill="none" stroke="#0a0a0a" stroke-width="1.7"/>
<circle cx="973.85" cy="153.1" r="3.7" fill="none" stroke="#0a0a0a" stroke-width="1.7"/>
<circle cx="991.12" cy="153.1" r="3.7" fill="none" stroke="#0a0a0a" stroke-width="1.7"/>
<circle cx="1008.40" cy="153.1" r="3.7" fill="none" stroke="#0a0a0a" stroke-width="1.7"/>
<path d="M1032.06,142.47 L1019.28,163.73 M1029.48,146.76 L1034.29,147.69" stroke="#0a0a0a" stroke-width="1.7" fill="none" stroke-linecap="butt"/>
<circle cx="1042.94" cy="153.1" r="3.7" fill="none" stroke="#0a0a0a" stroke-width="1.7"/>
<circle cx="1060.22" cy="153.1" r="3.7" fill="none" stroke="#0a0a0a" stroke-width="1.7"/>
<circle cx="1077.49" cy="153.1" r="3.7" fill="none" stroke="#0a0a0a" stroke-width="1.7"/>
<circle cx="1094.76" cy="153.1" r="3.7" fill="none" stroke="#0a0a0a" stroke-width="1.7"/>
<line x1="208.0" x2="208.0" y1="97.5" y2="359.5" stroke="#111" stroke-width="1.8" stroke-dasharray="5.6 2.4"/>
<rect x="127.5" y="97.5" width="967.0" height="262.0" fill="none" stroke="#111" stroke-width="1.15"/>
<line x1="144.77" x2="144.77" y1="359.5" y2="354.7" stroke="#111" stroke-width="1.05"/>
<line x1="162.05" x2="162.05" y1="359.5" y2="349.9" stroke="#111" stroke-width="1.05"/>
<line x1="179.32" x2="179.32" y1="359.5" y2="354.7" stroke="#111" stroke-width="1.05"/>
<line x1="196.59" x2="196.59" y1="359.5" y2="349.9" stroke="#111" stroke-width="1.05"/>
<line x1="213.86" x2="213.86" y1="359.5" y2="354.7" stroke="#111" stroke-width="1.05"/>
<line x1="231.13" x2="231.13" y1="359.5" y2="349.9" stroke="#111" stroke-width="1.05"/>
<line x1="248.41" x2="248.41" y1="359.5" y2="354.7" stroke="#111" stroke-width="1.05"/>
<line x1="282.95" x2="282.95" y1="359.5" y2="354.7" stroke="#111" stroke-width="1.05"/>
<line x1="300.23" x2="300.23" y1="359.5" y2="349.9" stroke="#111" stroke-width="1.05"/>
<line x1="317.50" x2="317.50" y1="359.5" y2="354.7" stroke="#111" stroke-width="1.05"/>
<line x1="334.77" x2="334.77" y1="359.5" y2="349.9" stroke="#111" stroke-width="1.05"/>
<line x1="352.04" x2="352.04" y1="359.5" y2="354.7" stroke="#111" stroke-width="1.05"/>
<line x1="369.31" x2="369.31" y1="359.5" y2="349.9" stroke="#111" stroke-width="1.05"/>
<line x1="386.59" x2="386.59" y1="359.5" y2="354.7" stroke="#111" stroke-width="1.05"/>
<line x1="421.13" x2="421.13" y1="359.5" y2="354.7" stroke="#111" stroke-width="1.05"/>
<line x1="438.41" x2="438.41" y1="359.5" y2="349.9" stroke="#111" stroke-width="1.05"/>
<line x1="455.68" x2="455.68" y1="359.5" y2="354.7" stroke="#111" stroke-width="1.05"/>
<line x1="472.95" x2="472.95" y1="359.5" y2="349.9" stroke="#111" stroke-width="1.05"/>
<line x1="490.22" x2="490.22" y1="359.5" y2="354.7" stroke="#111" stroke-width="1.05"/>
<line x1="507.50" x2="507.50" y1="359.5" y2="349.9" stroke="#111" stroke-width="1.05"/>
<line x1="524.77" x2="524.77" y1="359.5" y2="354.7" stroke="#111" stroke-width="1.05"/>
<line x1="559.31" x2="559.31" y1="359.5" y2="354.7" stroke="#111" stroke-width="1.05"/>
<line x1="576.59" x2="576.59" y1="359.5" y2="349.9" stroke="#111" stroke-width="1.05"/>
<line x1="593.86" x2="593.86" y1="359.5" y2="354.7" stroke="#111" stroke-width="1.05"/>
<line x1="611.13" x2="611.13" y1="359.5" y2="349.9" stroke="#111" stroke-width="1.05"/>
<line x1="628.40" x2="628.40" y1="359.5" y2="354.7" stroke="#111" stroke-width="1.05"/>
<line x1="645.68" x2="645.68" y1="359.5" y2="349.9" stroke="#111" stroke-width="1.05"/>
<line x1="662.95" x2="662.95" y1="359.5" y2="354.7" stroke="#111" stroke-width="1.05"/>
<line x1="697.49" x2="697.49" y1="359.5" y2="354.7" stroke="#111" stroke-width="1.05"/>
<line x1="714.76" x2="714.76" y1="359.5" y2="349.9" stroke="#111" stroke-width="1.05"/>
<line x1="732.04" x2="732.04" y1="359.5" y2="354.7" stroke="#111" stroke-width="1.05"/>
<line x1="749.31" x2="749.31" y1="359.5" y2="349.9" stroke="#111" stroke-width="1.05"/>
<line x1="766.58" x2="766.58" y1="359.5" y2="354.7" stroke="#111" stroke-width="1.05"/>
<line x1="783.86" x2="783.86" y1="359.5" y2="349.9" stroke="#111" stroke-width="1.05"/>
<line x1="801.13" x2="801.13" y1="359.5" y2="354.7" stroke="#111" stroke-width="1.05"/>
<line x1="835.67" x2="835.67" y1="359.5" y2="354.7" stroke="#111" stroke-width="1.05"/>
<line x1="852.95" x2="852.95" y1="359.5" y2="349.9" stroke="#111" stroke-width="1.05"/>
<line x1="870.22" x2="870.22" y1="359.5" y2="354.7" stroke="#111" stroke-width="1.05"/>
<line x1="887.49" x2="887.49" y1="359.5" y2="349.9" stroke="#111" stroke-width="1.05"/>
<line x1="904.76" x2="904.76" y1="359.5" y2="354.7" stroke="#111" stroke-width="1.05"/>
<line x1="922.04" x2="922.04" y1="359.5" y2="349.9" stroke="#111" stroke-width="1.05"/>
<line x1="939.31" x2="939.31" y1="359.5" y2="354.7" stroke="#111" stroke-width="1.05"/>
<line x1="973.85" x2="973.85" y1="359.5" y2="354.7" stroke="#111" stroke-width="1.05"/>
<line x1="991.12" x2="991.12" y1="359.5" y2="349.9" stroke="#111" stroke-width="1.05"/>
<line x1="1008.40" x2="1008.40" y1="359.5" y2="354.7" stroke="#111" stroke-width="1.05"/>
<line x1="1025.67" x2="1025.67" y1="359.5" y2="349.9" stroke="#111" stroke-width="1.05"/>
<line x1="1042.94" x2="1042.94" y1="359.5" y2="354.7" stroke="#111" stroke-width="1.05"/>
<line x1="1060.22" x2="1060.22" y1="359.5" y2="349.9" stroke="#111" stroke-width="1.05"/>
<line x1="1077.49" x2="1077.49" y1="359.5" y2="354.7" stroke="#111" stroke-width="1.05"/>
<text x="161.45" y="376.00" font-size="17.2" text-anchor="middle" fill="#111" textLength="22.00" lengthAdjust="spacingAndGlyphs" stroke="#111" stroke-width="0.18">06</text>
<text x="195.99" y="376.00" font-size="17.2" text-anchor="middle" fill="#111" textLength="22.00" lengthAdjust="spacingAndGlyphs" stroke="#111" stroke-width="0.18">12</text>
<text x="230.53" y="376.00" font-size="17.2" text-anchor="middle" fill="#111" textLength="22.00" lengthAdjust="spacingAndGlyphs" stroke="#111" stroke-width="0.18">18</text>
<text x="299.62" y="376.00" font-size="17.2" text-anchor="middle" fill="#111" textLength="22.00" lengthAdjust="spacingAndGlyphs" stroke="#111" stroke-width="0.18">06</text>
<text x="334.17" y="376.00" font-size="17.2" text-anchor="middle" fill="#111" textLength="22.00" lengthAdjust="spacingAndGlyphs" stroke="#111" stroke-width="0.18">12</text>
<text x="368.71" y="376.00" font-size="17.2" text-anchor="middle" fill="#111" textLength="22.00" lengthAdjust="spacingAndGlyphs" stroke="#111" stroke-width="0.18">18</text>
<text x="265.68" y="376.00" font-size="17.6" text-anchor="middle" fill="#111" textLength="32.50" lengthAdjust="spacingAndGlyphs" stroke="#111" stroke-width="0.18">pon</text>
<text x="437.81" y="376.00" font-size="17.2" text-anchor="middle" fill="#111" textLength="22.00" lengthAdjust="spacingAndGlyphs" stroke="#111" stroke-width="0.18">06</text>
<text x="472.35" y="376.00" font-size="17.2" text-anchor="middle" fill="#111" textLength="22.00" lengthAdjust="spacingAndGlyphs" stroke="#111" stroke-width="0.18">12</text>
<text x="506.89" y="376.00" font-size="17.2" text-anchor="middle" fill="#111" textLength="22.00" lengthAdjust="spacingAndGlyphs" stroke="#111" stroke-width="0.18">18</text>
<text x="403.86" y="376.00" font-size="17.6" text-anchor="middle" fill="#111" textLength="24.60" lengthAdjust="spacingAndGlyphs" stroke="#111" stroke-width="0.18">tor</text>
<text x="575.99" y="376.00" font-size="17.2" text-anchor="middle" fill="#111" textLength="22.00" lengthAdjust="spacingAndGlyphs" stroke="#111" stroke-width="0.18">06</text>
<text x="610.53" y="376.00" font-size="17.2" text-anchor="middle" fill="#111" textLength="22.00" lengthAdjust="spacingAndGlyphs" stroke="#111" stroke-width="0.18">12</text>
<text x="645.08" y="376.00" font-size="17.2" text-anchor="middle" fill="#111" textLength="22.00" lengthAdjust="spacingAndGlyphs" stroke="#111" stroke-width="0.18">18</text>
<text x="542.04" y="376.00" font-size="17.6" text-anchor="middle" fill="#111" textLength="26.50" lengthAdjust="spacingAndGlyphs" stroke="#111" stroke-width="0.18">sre</text>
<text x="714.16" y="376.00" font-size="17.2" text-anchor="middle" fill="#111" textLength="22.00" lengthAdjust="spacingAndGlyphs" stroke="#111" stroke-width="0.18">06</text>
<text x="748.71" y="376.00" font-size="17.2" text-anchor="middle" fill="#111" textLength="22.00" lengthAdjust="spacingAndGlyphs" stroke="#111" stroke-width="0.18">12</text>
<text x="783.25" y="376.00" font-size="17.2" text-anchor="middle" fill="#111" textLength="22.00" lengthAdjust="spacingAndGlyphs" stroke="#111" stroke-width="0.18">18</text>
<text x="680.22" y="376.00" font-size="17.6" text-anchor="middle" fill="#111" textLength="27.00" lengthAdjust="spacingAndGlyphs" stroke="#111" stroke-width="0.18">čet</text>
<text x="852.35" y="376.00" font-size="17.2" text-anchor="middle" fill="#111" textLength="22.00" lengthAdjust="spacingAndGlyphs" stroke="#111" stroke-width="0.18">06</text>
<text x="886.89" y="376.00" font-size="17.2" text-anchor="middle" fill="#111" textLength="22.00" lengthAdjust="spacingAndGlyphs" stroke="#111" stroke-width="0.18">12</text>
<text x="921.44" y="376.00" font-size="17.2" text-anchor="middle" fill="#111" textLength="22.00" lengthAdjust="spacingAndGlyphs" stroke="#111" stroke-width="0.18">18</text>
<text x="818.40" y="376.00" font-size="17.6" text-anchor="middle" fill="#111" textLength="28.50" lengthAdjust="spacingAndGlyphs" stroke="#111" stroke-width="0.18">pet</text>
<text x="990.52" y="376.00" font-size="17.2" text-anchor="middle" fill="#111" textLength="22.00" lengthAdjust="spacingAndGlyphs" stroke="#111" stroke-width="0.18">06</text>
<text x="1025.07" y="376.00" font-size="17.2" text-anchor="middle" fill="#111" textLength="22.00" lengthAdjust="spacingAndGlyphs" stroke="#111" stroke-width="0.18">12</text>
<text x="1059.62" y="376.00" font-size="17.2" text-anchor="middle" fill="#111" textLength="22.00" lengthAdjust="spacingAndGlyphs" stroke="#111" stroke-width="0.18">18</text>
<text x="956.58" y="376.00" font-size="17.6" text-anchor="middle" fill="#111" textLength="30.60" lengthAdjust="spacingAndGlyphs" stroke="#111" stroke-width="0.18">sob</text>
<text x="123.40" y="364.85" font-size="17" text-anchor="end" fill="#111" textLength="10.90" lengthAdjust="spacingAndGlyphs" stroke="#111" stroke-width="0.18">0</text>
<text x="123.40" y="327.60" font-size="17" text-anchor="end" fill="#111" textLength="10.90" lengthAdjust="spacingAndGlyphs" stroke="#111" stroke-width="0.18">3</text>
<text x="123.40" y="290.35" font-size="17" text-anchor="end" fill="#111" textLength="10.90" lengthAdjust="spacingAndGlyphs" stroke="#111" stroke-width="0.18">6</text>
<text x="123.40" y="253.10" font-size="17" text-anchor="end" fill="#111" textLength="10.90" lengthAdjust="spacingAndGlyphs" stroke="#111" stroke-width="0.18">9</text>
<text x="123.40" y="215.85" font-size="17" text-anchor="end" fill="#111" textLength="10.90" lengthAdjust="spacingAndGlyphs" stroke="#111" stroke-width="0.18">2</text>
<text x="123.40" y="178.59" font-size="17" text-anchor="end" fill="#111" textLength="10.90" lengthAdjust="spacingAndGlyphs" stroke="#111" stroke-width="0.18">5</text>
<text x="46.20" y="364.85" font-size="17" text-anchor="start" fill="#ff0000" textLength="10.90" lengthAdjust="spacingAndGlyphs" stroke="#ff0000" stroke-width="0.18">0</text>
<text x="46.20" y="327.60" font-size="17" text-anchor="start" fill="#ff0000" textLength="10.90" lengthAdjust="spacingAndGlyphs" stroke="#ff0000" stroke-width="0.18">5</text>
<text x="46.20" y="290.35" font-size="17" text-anchor="start" fill="#ff0000" textLength="21.80" lengthAdjust="spacingAndGlyphs" stroke="#ff0000" stroke-width="0.18">10</text>
<text x="46.20" y="253.10" font-size="17" text-anchor="start" fill="#ff0000" textLength="21.80" lengthAdjust="spacingAndGlyphs" stroke="#ff0000" stroke-width="0.18">16</text>
<text x="46.20" y="215.85" font-size="17" text-anchor="start" fill="#ff0000" textLength="21.80" lengthAdjust="spacingAndGlyphs" stroke="#ff0000" stroke-width="0.18">21</text>
<text x="46.20" y="178.59" font-size="17" text-anchor="start" fill="#ff0000" textLength="21.80" lengthAdjust="spacingAndGlyphs" stroke="#ff0000" stroke-width="0.18">26</text>
<text x="1098.60" y="364.85" font-size="17" text-anchor="start" fill="#111" textLength="10.90" lengthAdjust="spacingAndGlyphs" stroke="#111" stroke-width="0.18">0</text>
<text x="1098.60" y="327.60" font-size="17" text-anchor="start" fill="#111" textLength="28.60" lengthAdjust="spacingAndGlyphs" stroke="#111" stroke-width="0.18">1.5</text>
<text x="1098.60" y="290.35" font-size="17" text-anchor="start" fill="#111" textLength="28.60" lengthAdjust="spacingAndGlyphs" stroke="#111" stroke-width="0.18">3.5</text>
<text x="1098.60" y="253.10" font-size="17" text-anchor="start" fill="#111" textLength="28.60" lengthAdjust="spacingAndGlyphs" stroke="#111" stroke-width="0.18">6.0</text>
<text x="1098.60" y="215.85" font-size="17" text-anchor="start" fill="#111" textLength="28.60" lengthAdjust="spacingAndGlyphs" stroke="#111" stroke-width="0.18">9.0</text>
<text x="1098.60" y="178.59" font-size="17" text-anchor="start" fill="#111" textLength="21.80" lengthAdjust="spacingAndGlyphs" stroke="#111" stroke-width="0.18">14</text>
<rect x="77.6" y="175.5" width="2.2" height="1.6" fill="#222"/>
<rect x="77.8" y="186.5" width="1.6" height="1.4" fill="#222"/>
<rect x="77.8" y="190.2" width="1.6" height="1.4" fill="#222"/>
<rect x="77.4" y="235.5" width="2.4" height="1.8" fill="#222"/>
<rect x="78" y="269.5" width="1.6" height="1.6" fill="#222"/>
<rect x="78" y="275" width="1.6" height="1.6" fill="#222"/>
<rect x="78" y="295" width="1.6" height="1.6" fill="#222"/>
<rect x="78" y="300.5" width="1.6" height="1.6" fill="#222"/>
<rect x="78" y="317.5" width="1.6" height="1.8" fill="#222"/>
<rect x="77.6" y="349.5" width="2.2" height="7" fill="#222"/>
<text x="34.60" y="266.50" font-size="19.8" text-anchor="middle" fill="#ff0000" textLength="164.50" lengthAdjust="spacingAndGlyphs" transform="rotate(-90 34.60 266.50)" stroke="#ff0000" stroke-width="0.18">Temperatura (°C)</text>
<text x="100.20" y="263.00" font-size="19.8" text-anchor="middle" fill="#111" textLength="163.50" lengthAdjust="spacingAndGlyphs" transform="rotate(-90 100.20 263.00)" stroke="#111" stroke-width="0.18">Padavine (mm/h)</text>
<text x="1145.30" y="255.30" font-size="19.8" text-anchor="middle" fill="#111" textLength="187.50" lengthAdjust="spacingAndGlyphs" transform="rotate(-90 1145.30 255.30)" stroke="#111" stroke-width="0.18">Višina oblakov (km)</text>
<rect x="127" y="390" width="32" height="11" fill="#0048ff"/>
<rect x="165" y="386" width="105" height="19.7" fill="#fff"/>
<text x="169.40" y="401.70" font-size="19.4" text-anchor="start" fill="#111">Dež</text>
<rect x="278" y="390" width="32" height="11" fill="#0dd8c8"/>
<rect x="311" y="386" width="125" height="19.7" fill="#fff"/>
<text x="318.30" y="401.70" font-size="19.45" text-anchor="start" fill="#111">Možnost ploh</text>
<text x="499.30" y="401.70" font-size="16" text-anchor="start" fill="#0000ff">© vreme.us &amp; vreme.pro</text>
<rect x="760" y="386" width="180" height="19.7" fill="#fff"/>
<text x="759.60" y="401.70" font-size="19.45" text-anchor="start" fill="#111">Gostota oblakov (%)</text>
<rect x="949.30" y="385.6" width="29.38" height="12.7" fill="#d2d2d2"/>
<rect x="978.38" y="385.6" width="29.38" height="12.7" fill="#b0b0b0"/>
<rect x="1007.46" y="385.6" width="29.38" height="12.7" fill="#909090"/>
<rect x="1036.54" y="385.6" width="29.38" height="12.7" fill="#737373"/>
<rect x="1065.62" y="385.6" width="29.38" height="12.7" fill="#545454"/>
<rect x="949.3" y="385.6" width="145.4" height="12.7" fill="none" stroke="#222" stroke-width="1"/>
<text x="949.80" y="414.60" font-size="15.4" text-anchor="middle" fill="#111" textLength="19.10" lengthAdjust="spacingAndGlyphs" stroke="#111" stroke-width="0.18">10</text>
<text x="978.88" y="414.60" font-size="15.4" text-anchor="middle" fill="#111" textLength="19.10" lengthAdjust="spacingAndGlyphs" stroke="#111" stroke-width="0.18">25</text>
<text x="1007.96" y="414.60" font-size="15.4" text-anchor="middle" fill="#111" textLength="19.10" lengthAdjust="spacingAndGlyphs" stroke="#111" stroke-width="0.18">50</text>
<text x="1037.04" y="414.60" font-size="15.4" text-anchor="middle" fill="#111" textLength="19.10" lengthAdjust="spacingAndGlyphs" stroke="#111" stroke-width="0.18">75</text>
<text x="1066.12" y="414.60" font-size="15.4" text-anchor="middle" fill="#111" textLength="19.10" lengthAdjust="spacingAndGlyphs" stroke="#111" stroke-width="0.18">90</text>
<text x="1095.20" y="414.60" font-size="15.4" text-anchor="middle" fill="#111" textLength="28.65" lengthAdjust="spacingAndGlyphs" stroke="#111" stroke-width="0.18">100</text>
</svg></body></html>
